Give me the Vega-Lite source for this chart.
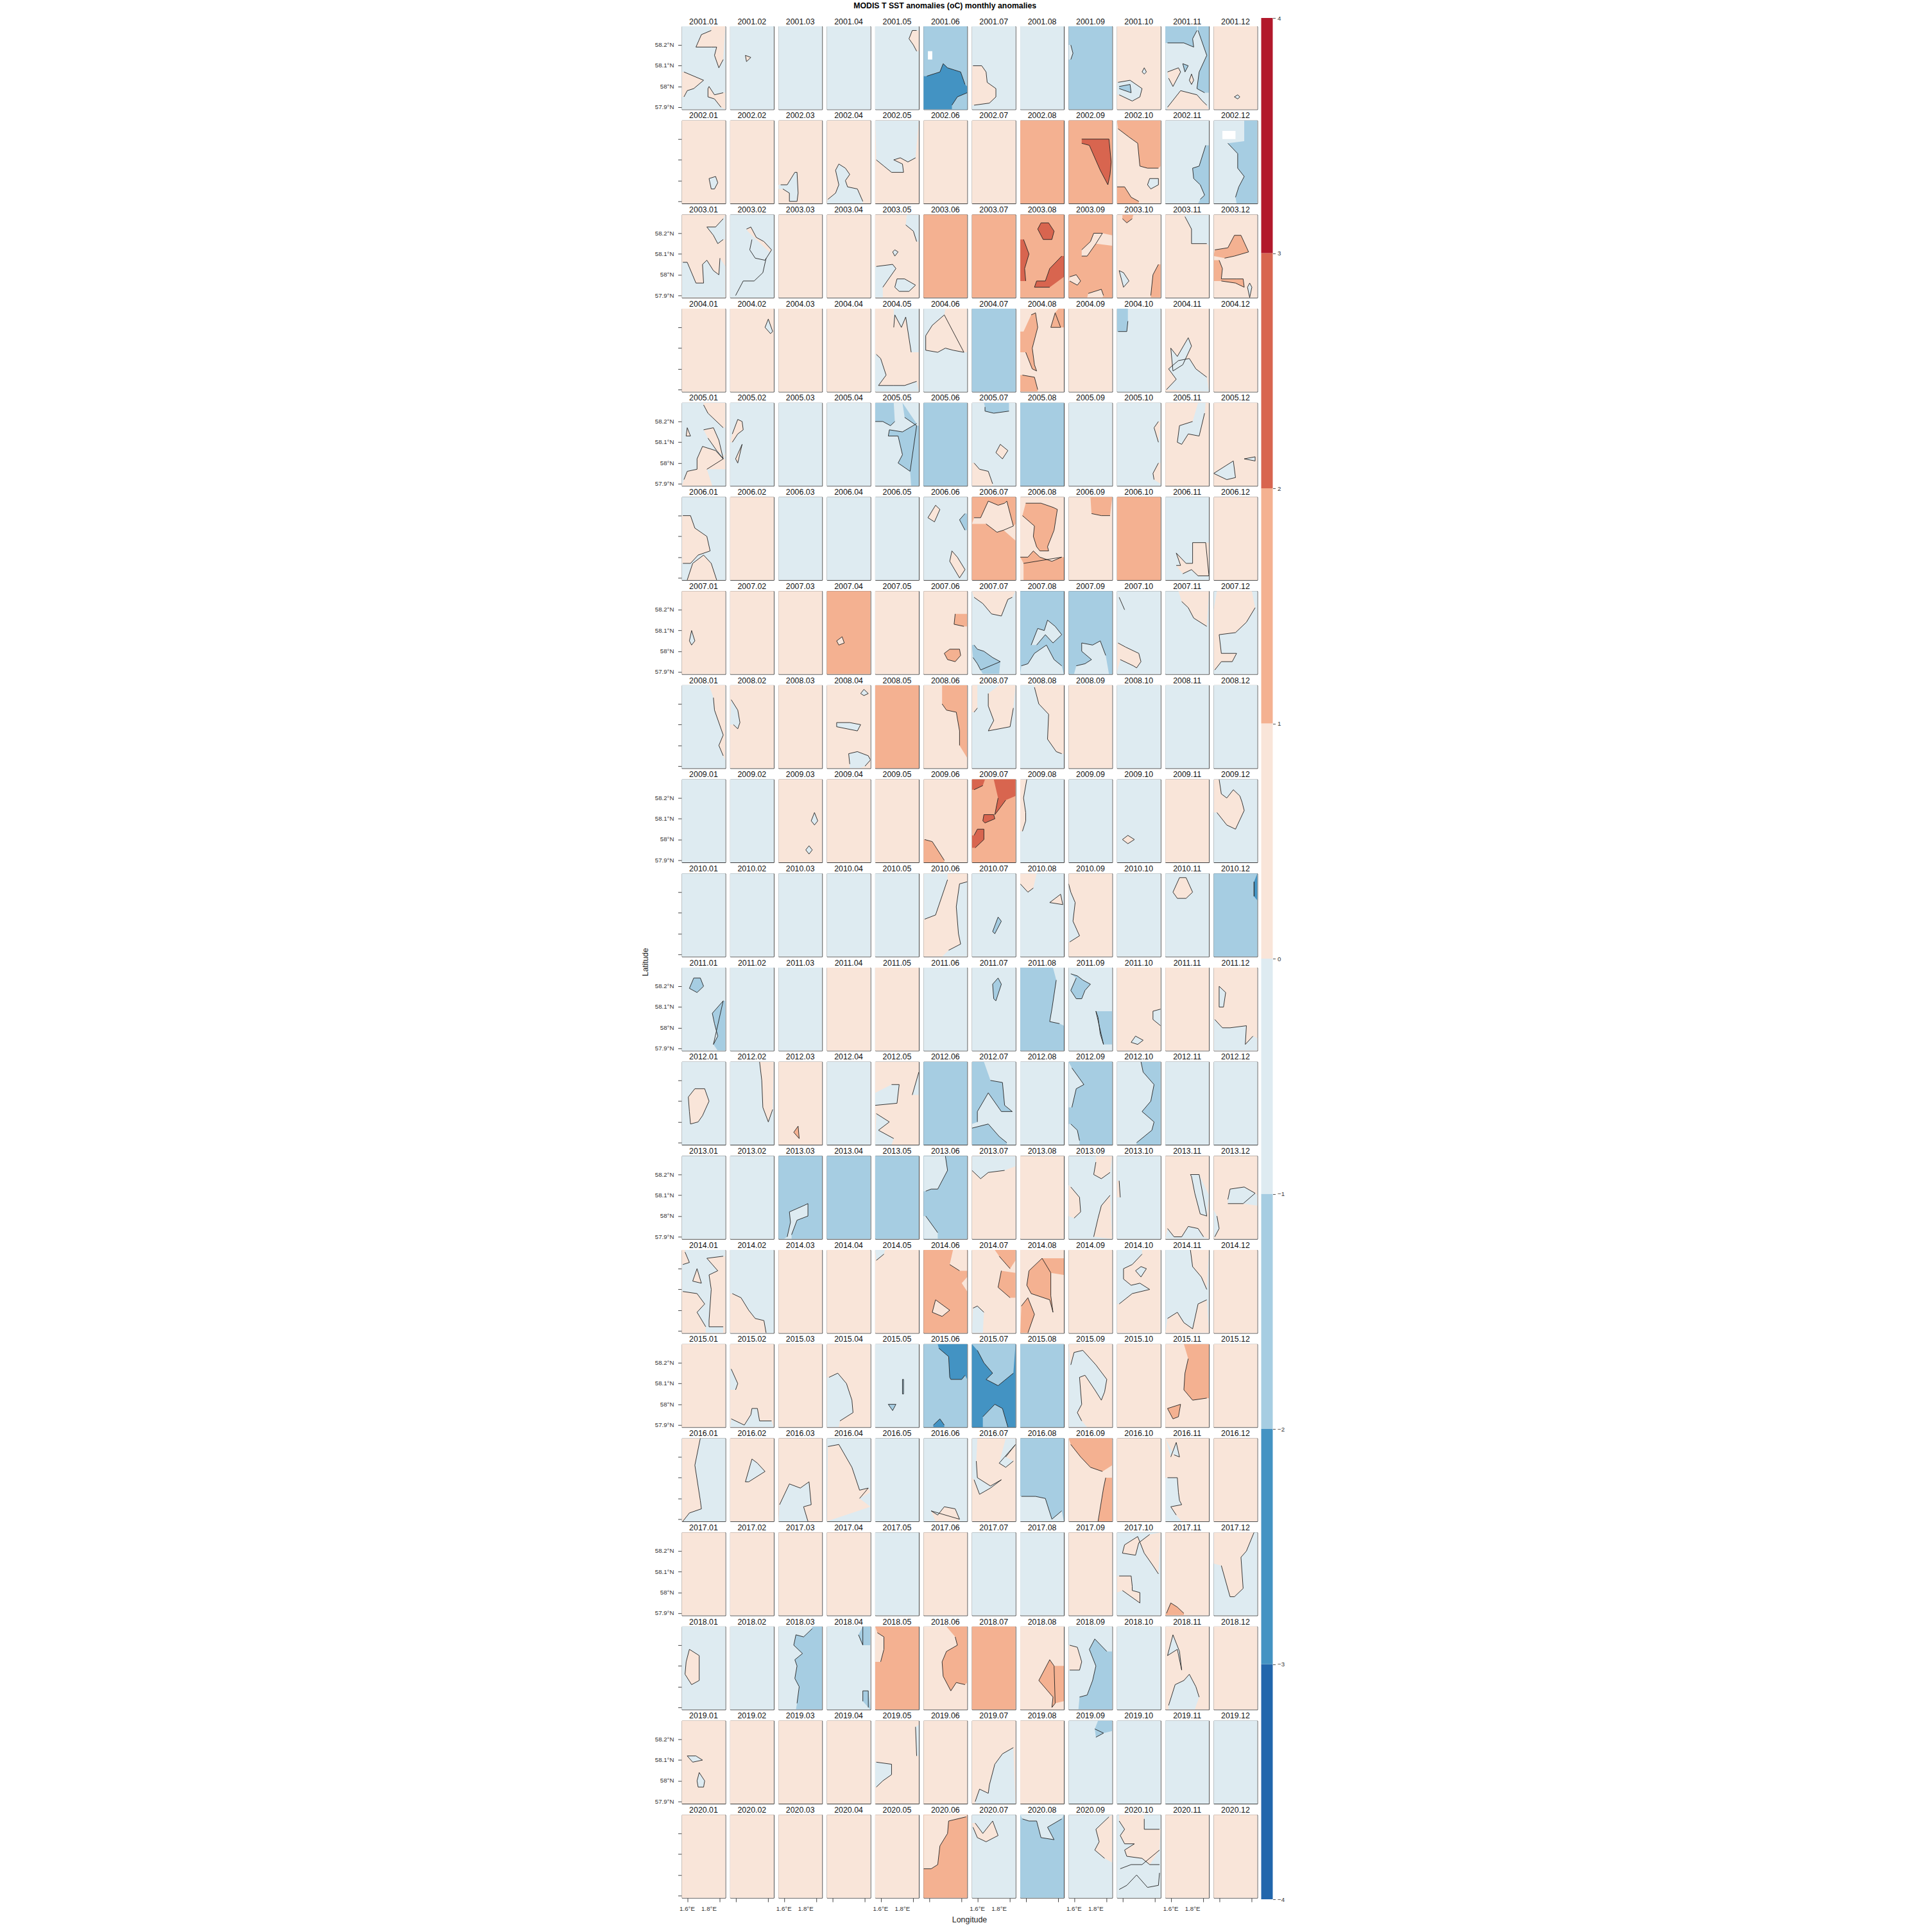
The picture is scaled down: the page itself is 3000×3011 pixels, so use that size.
{"$schema":"https://vega.github.io/schema/vega-lite/v6.json","padding":{"left":999.5,"top":3,"right":0,"bottom":0},"background":"white","title":{"text":"MODIS T SST anomalies (oC) monthly anomalies","fontSize":12.3,"font":"Liberation Sans","fontWeight":"bold","anchor":"middle","offset":7.7,"dx":-28},"config":{"font":"Liberation Sans","view":{"stroke":"#3a3a3a","strokeWidth":1}},"datasets":{"pts":[
{"g":1},{"g":2},{"g":3},{"g":4},{"g":5},{"g":6},{"g":7},{"g":8},{"g":9},{"g":10},{"g":11},{"g":12},{"g":13},{"g":14},{"g":15},{"g":16},{"g":17},{"g":18},{"g":19},{"g":20},{"g":21},{"g":22},{"g":23},{"g":24},{"g":25},{"g":26},{"g":27},{"g":28},{"g":29},{"g":30},{"g":31},{"g":32},{"g":33},{"g":34},{"g":35},{"g":36},{"g":37},{"g":38},{"g":39},{"g":40},{"g":41},{"g":42},{"g":43},{"g":44},{"g":45},{"g":46},{"g":47},{"g":48},{"g":49},{"g":50},{"g":51},{"g":52},{"g":53},{"g":54},{"g":55},{"g":56},{"g":57},{"g":58},{"g":59},{"g":60},{"g":61},{"g":62},{"g":63},{"g":64},{"g":65},{"g":66},{"g":67},{"g":68},{"g":69},{"g":70},{"g":71},{"g":72},{"g":73},{"g":74},{"g":75},{"g":76},{"g":77},{"g":78},{"g":79},{"g":80},{"g":81},{"g":82},{"g":83},{"g":84},{"g":85},{"g":86},{"g":87},{"g":88},{"g":89},{"g":90},{"g":91},{"g":92},{"g":93},{"g":94},{"g":95},{"g":96},{"g":97},{"g":98},{"g":99},{"g":100},{"g":101},{"g":102},{"g":103},{"g":104},{"g":105},{"g":106},{"g":107},{"g":108},{"g":109},{"g":110},{"g":111},{"g":112},{"g":113},{"g":114},{"g":115},{"g":116},{"g":117},{"g":118},{"g":119},{"g":120},{"g":121},{"g":122},{"g":123},{"g":124},{"g":125},{"g":126},{"g":127},{"g":128},{"g":129},{"g":130},{"g":131},{"g":132},{"g":133},{"g":134},{"g":135},{"g":136},{"g":137},{"g":138},{"g":139},{"g":140},{"g":141},{"g":142},{"g":143},{"g":144},{"g":145},{"g":146},{"g":147},{"g":148},{"g":149},{"g":150},{"g":151},{"g":152},{"g":153},{"g":154},{"g":155},{"g":156},{"g":157},{"g":158},{"g":159},{"g":160},{"g":161},{"g":162},{"g":163},{"g":164},{"g":165},{"g":166},{"g":167},{"g":168},{"g":169},{"g":170},{"g":171},{"g":172},{"g":173},{"g":174},{"g":175},{"g":176},{"g":177},{"g":178},{"g":179},{"g":180},{"g":181},{"g":182},{"g":183},{"g":184},{"g":185},{"g":186},{"g":187},{"g":188},{"g":189},{"g":190},{"g":191},{"g":192},{"g":193},{"g":194},{"g":195},{"g":196},{"g":197},{"g":198},{"g":199},{"g":200},{"g":201},{"g":202},{"g":203},{"g":204},{"g":205},{"g":206},{"g":207},{"g":208},{"g":209},{"g":210},{"g":211},{"g":212},{"g":213},{"g":214},{"g":215},{"g":216},{"g":217},{"g":218},{"g":219},{"g":220},{"g":221},{"g":222},{"g":223},{"g":224},{"g":225},{"g":226},{"g":227},{"g":228},{"g":229},{"g":230},{"g":231},{"g":232},{"g":233},{"g":234},{"g":235},{"g":236},{"g":237},{"g":238},{"g":239},{"g":240},
{"g":1,"t":"58.2°N","x":1.55,"y":58.2},{"g":1,"t":"58.1°N","x":1.55,"y":58.1},{"g":1,"t":"58°N","x":1.55,"y":58},{"g":1,"t":"57.9°N","x":1.55,"y":57.9},
{"g":25,"t":"58.2°N","x":1.55,"y":58.2},{"g":25,"t":"58.1°N","x":1.55,"y":58.1},{"g":25,"t":"58°N","x":1.55,"y":58},{"g":25,"t":"57.9°N","x":1.55,"y":57.9},
{"g":49,"t":"58.2°N","x":1.55,"y":58.2},{"g":49,"t":"58.1°N","x":1.55,"y":58.1},{"g":49,"t":"58°N","x":1.55,"y":58},{"g":49,"t":"57.9°N","x":1.55,"y":57.9},
{"g":73,"t":"58.2°N","x":1.55,"y":58.2},{"g":73,"t":"58.1°N","x":1.55,"y":58.1},{"g":73,"t":"58°N","x":1.55,"y":58},{"g":73,"t":"57.9°N","x":1.55,"y":57.9},
{"g":97,"t":"58.2°N","x":1.55,"y":58.2},{"g":97,"t":"58.1°N","x":1.55,"y":58.1},{"g":97,"t":"58°N","x":1.55,"y":58},{"g":97,"t":"57.9°N","x":1.55,"y":57.9},
{"g":121,"t":"58.2°N","x":1.55,"y":58.2},{"g":121,"t":"58.1°N","x":1.55,"y":58.1},{"g":121,"t":"58°N","x":1.55,"y":58},{"g":121,"t":"57.9°N","x":1.55,"y":57.9},
{"g":145,"t":"58.2°N","x":1.55,"y":58.2},{"g":145,"t":"58.1°N","x":1.55,"y":58.1},{"g":145,"t":"58°N","x":1.55,"y":58},{"g":145,"t":"57.9°N","x":1.55,"y":57.9},
{"g":169,"t":"58.2°N","x":1.55,"y":58.2},{"g":169,"t":"58.1°N","x":1.55,"y":58.1},{"g":169,"t":"58°N","x":1.55,"y":58},{"g":169,"t":"57.9°N","x":1.55,"y":57.9},
{"g":193,"t":"58.2°N","x":1.55,"y":58.2},{"g":193,"t":"58.1°N","x":1.55,"y":58.1},{"g":193,"t":"58°N","x":1.55,"y":58},{"g":193,"t":"57.9°N","x":1.55,"y":57.9},
{"g":217,"t":"58.2°N","x":1.55,"y":58.2},{"g":217,"t":"58.1°N","x":1.55,"y":58.1},{"g":217,"t":"58°N","x":1.55,"y":58},{"g":217,"t":"57.9°N","x":1.55,"y":57.9},
{"g":229,"u":"1.6°E","x":1.6,"y":57.89},{"g":229,"u":"1.8°E","x":1.8,"y":57.89},{"g":231,"u":"1.6°E","x":1.6,"y":57.89},{"g":231,"u":"1.8°E","x":1.8,"y":57.89},{"g":233,"u":"1.6°E","x":1.6,"y":57.89},{"g":233,"u":"1.8°E","x":1.8,"y":57.89},{"g":235,"u":"1.6°E","x":1.6,"y":57.89},{"g":235,"u":"1.8°E","x":1.8,"y":57.89},{"g":237,"u":"1.6°E","x":1.6,"y":57.89},{"g":237,"u":"1.8°E","x":1.8,"y":57.89},{"g":239,"u":"1.6°E","x":1.6,"y":57.89},{"g":239,"u":"1.8°E","x":1.8,"y":57.89},
{"g":234,"v":"Longitude","x":1.972,"y":57.89},{"g":109,"w":"Latitude","x":1.22,"y":57.863},
{"g":241,"x":1.82,"y":58.27},{"g":241,"x":1.73,"y":58.25},{"g":241,"x":1.68,"y":58.19},{"g":241,"x":1.82,"y":58.19},{"g":241,"x":1.87,"y":58.19},{"g":241,"x":1.85,"y":58.15},{"g":241,"x":1.89,"y":58.09},{"g":241,"x":1.93,"y":58.13},{"g":241,"x":1.95,"y":58.29,"e":1},{"g":241,"x":1.82,"y":58.29,"e":1},
{"g":242,"x":1.57,"y":58.07},{"g":242,"x":1.75,"y":58.03},{"g":242,"x":1.66,"y":57.99},{"g":242,"x":1.6,"y":57.98},{"g":242,"x":1.57,"y":57.95},{"g":242,"x":1.55,"y":57.95,"e":1},{"g":242,"x":1.55,"y":58.07,"e":1},
{"g":243,"x":1.93,"y":57.97},{"g":243,"x":1.85,"y":57.96},{"g":243,"x":1.8,"y":58},{"g":243,"x":1.79,"y":57.99},{"g":243,"x":1.79,"y":57.95},{"g":243,"x":1.85,"y":57.94},{"g":243,"x":1.91,"y":57.9},{"g":243,"x":1.95,"y":57.89,"e":1},{"g":243,"x":1.95,"y":57.97,"e":1},
{"g":244,"x":1.69,"y":58.15},{"g":244,"x":1.74,"y":58.14},{"g":244,"x":1.7,"y":58.12},{"g":244,"x":1.69,"y":58.15},
{"g":245,"x":1.93,"y":58.27},{"g":245,"x":1.89,"y":58.27},{"g":245,"x":1.86,"y":58.23},{"g":245,"x":1.9,"y":58.2},{"g":245,"x":1.93,"y":58.17},{"g":245,"x":1.95,"y":58.17,"e":1},{"g":245,"x":1.95,"y":58.27,"e":1},
{"g":246,"x":1.58,"y":58.05},{"g":246,"x":1.7,"y":58.07},{"g":246,"x":1.73,"y":58.11},{"g":246,"x":1.77,"y":58.09},{"g":246,"x":1.89,"y":58.07},{"g":246,"x":1.93,"y":58.01},{"g":246,"x":1.95,"y":58,"e":1},{"g":246,"x":1.95,"y":57.89,"e":1},{"g":246,"x":1.55,"y":57.89,"e":1},{"g":246,"x":1.55,"y":58.05,"e":1},
{"g":247,"x":1.81,"y":57.91},{"g":247,"x":1.86,"y":57.95},{"g":247,"x":1.95,"y":57.97},{"g":247,"x":1.95,"y":57.89,"e":1},{"g":247,"x":1.81,"y":57.89,"e":1},
{"g":248,"x":1.59,"y":58.17,"e":1},{"g":248,"x":1.63,"y":58.17,"e":1},{"g":248,"x":1.63,"y":58.13,"e":1},{"g":248,"x":1.59,"y":58.13,"e":1},
{"g":249,"x":1.56,"y":58.1},{"g":249,"x":1.64,"y":58.1},{"g":249,"x":1.68,"y":58.07},{"g":249,"x":1.69,"y":58.02},{"g":249,"x":1.77,"y":57.99},{"g":249,"x":1.77,"y":57.95},{"g":249,"x":1.71,"y":57.92},{"g":249,"x":1.57,"y":57.91},{"g":249,"x":1.55,"y":57.91,"e":1},{"g":249,"x":1.55,"y":58.1,"e":1},
{"g":250,"x":1.57,"y":58.2},{"g":250,"x":1.59,"y":58.16},{"g":250,"x":1.57,"y":58.13},{"g":250,"x":1.55,"y":58.13,"e":1},{"g":250,"x":1.55,"y":58.2,"e":1},
{"g":251,"x":1.56,"y":58.02},{"g":251,"x":1.67,"y":58.03},{"g":251,"x":1.78,"y":57.99},{"g":251,"x":1.76,"y":57.95},{"g":251,"x":1.69,"y":57.93},{"g":251,"x":1.57,"y":57.96},{"g":251,"x":1.55,"y":57.96,"e":1},{"g":251,"x":1.55,"y":58.02,"e":1},
{"g":252,"x":1.57,"y":58},{"g":252,"x":1.67,"y":58.01},{"g":252,"x":1.68,"y":57.97},{"g":252,"x":1.57,"y":57.99},
{"g":253,"x":1.78,"y":58.07},{"g":253,"x":1.8,"y":58.09},{"g":253,"x":1.82,"y":58.07},{"g":253,"x":1.8,"y":58.06},{"g":253,"x":1.78,"y":58.07},
{"g":254,"x":1.57,"y":58.21},{"g":254,"x":1.72,"y":58.21},{"g":254,"x":1.81,"y":58.19},{"g":254,"x":1.8,"y":58.23},{"g":254,"x":1.84,"y":58.27},{"g":254,"x":1.84,"y":58.29,"e":1},{"g":254,"x":1.55,"y":58.29,"e":1},{"g":254,"x":1.55,"y":58.21,"e":1},
{"g":255,"x":1.85,"y":58.27},{"g":255,"x":1.93,"y":58.15},{"g":255,"x":1.86,"y":58.07},{"g":255,"x":1.84,"y":57.99},{"g":255,"x":1.91,"y":57.97},{"g":255,"x":1.95,"y":57.97,"e":1},{"g":255,"x":1.95,"y":58.29,"e":1},{"g":255,"x":1.85,"y":58.29,"e":1},
{"g":256,"x":1.57,"y":57.9},{"g":256,"x":1.69,"y":57.98},{"g":256,"x":1.84,"y":57.96},{"g":256,"x":1.89,"y":57.93},{"g":256,"x":1.93,"y":57.91},{"g":256,"x":1.95,"y":57.89,"e":1},{"g":256,"x":1.57,"y":57.89,"e":1},
{"g":257,"x":1.57,"y":58.07},{"g":257,"x":1.67,"y":58.09},{"g":257,"x":1.69,"y":58.07},{"g":257,"x":1.62,"y":58},{"g":257,"x":1.58,"y":58.04},
{"g":258,"x":1.71,"y":58.11},{"g":258,"x":1.76,"y":58.1},{"g":258,"x":1.73,"y":58.07},{"g":258,"x":1.71,"y":58.11},
{"g":259,"x":1.77,"y":58.03},{"g":259,"x":1.79,"y":58.06},{"g":259,"x":1.81,"y":58.03},{"g":259,"x":1.79,"y":58.01},{"g":259,"x":1.77,"y":58.03},
{"g":260,"x":1.74,"y":57.95},{"g":260,"x":1.77,"y":57.96},{"g":260,"x":1.79,"y":57.95},{"g":260,"x":1.77,"y":57.94},{"g":260,"x":1.74,"y":57.95},
{"g":261,"x":1.8,"y":58.01},{"g":261,"x":1.86,"y":58.02},{"g":261,"x":1.88,"y":57.99},{"g":261,"x":1.85,"y":57.96},{"g":261,"x":1.82,"y":57.96},{"g":261,"x":1.8,"y":58.01},
{"g":262,"x":1.57,"y":57.98},{"g":262,"x":1.63,"y":57.98},{"g":262,"x":1.7,"y":58.04},{"g":262,"x":1.72,"y":58.04},{"g":262,"x":1.73,"y":57.94},{"g":262,"x":1.72,"y":57.9},{"g":262,"x":1.65,"y":57.9},{"g":262,"x":1.65,"y":57.94},{"g":262,"x":1.59,"y":57.96},{"g":262,"x":1.55,"y":57.96,"e":1},{"g":262,"x":1.55,"y":57.98,"e":1},
{"g":263,"x":1.56,"y":57.91},{"g":263,"x":1.63,"y":57.94},{"g":263,"x":1.66,"y":57.98},{"g":263,"x":1.63,"y":58.05},{"g":263,"x":1.66,"y":58.08},{"g":263,"x":1.72,"y":58.06},{"g":263,"x":1.76,"y":58.03},{"g":263,"x":1.72,"y":58},{"g":263,"x":1.74,"y":57.97},{"g":263,"x":1.83,"y":57.96},{"g":263,"x":1.88,"y":57.9},{"g":263,"x":1.88,"y":57.89,"e":1},{"g":263,"x":1.55,"y":57.89,"e":1},
{"g":264,"x":1.56,"y":58.1},{"g":264,"x":1.63,"y":58.07},{"g":264,"x":1.7,"y":58.04},{"g":264,"x":1.81,"y":58.04},{"g":264,"x":1.8,"y":58.08},{"g":264,"x":1.72,"y":58.1},{"g":264,"x":1.78,"y":58.11},{"g":264,"x":1.85,"y":58.09},{"g":264,"x":1.92,"y":58.11},{"g":264,"x":1.95,"y":58.29,"e":1},{"g":264,"x":1.55,"y":58.29,"e":1},
{"g":265,"x":1.67,"y":58.2},{"g":265,"x":1.92,"y":58.2},{"g":265,"x":1.94,"y":58.09},{"g":265,"x":1.93,"y":58.03},{"g":265,"x":1.91,"y":57.98},{"g":265,"x":1.84,"y":58.05},{"g":265,"x":1.79,"y":58.11},{"g":265,"x":1.74,"y":58.17},{"g":265,"x":1.67,"y":58.18},
{"g":266,"x":1.56,"y":58.25},{"g":266,"x":1.66,"y":58.21},{"g":266,"x":1.74,"y":58.18},{"g":266,"x":1.76,"y":58.07},{"g":266,"x":1.83,"y":58.06},{"g":266,"x":1.93,"y":58.06},{"g":266,"x":1.95,"y":58.07,"e":1},{"g":266,"x":1.95,"y":58.29,"e":1},{"g":266,"x":1.55,"y":58.29,"e":1},
{"g":267,"x":1.55,"y":57.97},{"g":267,"x":1.62,"y":57.97},{"g":267,"x":1.68,"y":57.92},{"g":267,"x":1.75,"y":57.9},{"g":267,"x":1.75,"y":57.89,"e":1},{"g":267,"x":1.55,"y":57.89,"e":1},
{"g":268,"x":1.83,"y":57.98},{"g":268,"x":1.85,"y":58.01},{"g":268,"x":1.93,"y":58.01},{"g":268,"x":1.93,"y":57.98},{"g":268,"x":1.86,"y":57.96},{"g":268,"x":1.83,"y":57.98},
{"g":269,"x":1.92,"y":58.17},{"g":269,"x":1.86,"y":58.07},{"g":269,"x":1.8,"y":58.06},{"g":269,"x":1.81,"y":58.01},{"g":269,"x":1.87,"y":57.98},{"g":269,"x":1.91,"y":57.93},{"g":269,"x":1.87,"y":57.91},{"g":269,"x":1.85,"y":57.89,"e":1},{"g":269,"x":1.95,"y":57.89,"e":1},{"g":269,"x":1.95,"y":58.17,"e":1},
{"g":270,"x":1.68,"y":58.18},{"g":270,"x":1.77,"y":58.13},{"g":270,"x":1.77,"y":58.06},{"g":270,"x":1.83,"y":58.02},{"g":270,"x":1.78,"y":57.97},{"g":270,"x":1.75,"y":57.92},{"g":270,"x":1.76,"y":57.89,"e":1},{"g":270,"x":1.95,"y":57.89,"e":1},{"g":270,"x":1.95,"y":58.29,"e":1},{"g":270,"x":1.83,"y":58.29,"e":1},{"g":270,"x":1.83,"y":58.19,"e":1},
{"g":271,"x":1.63,"y":58.24,"e":1},{"g":271,"x":1.75,"y":58.24,"e":1},{"g":271,"x":1.75,"y":58.2,"e":1},{"g":271,"x":1.63,"y":58.2,"e":1},
{"g":272,"x":1.56,"y":58.06},{"g":272,"x":1.6,"y":58.06},{"g":272,"x":1.68,"y":57.96},{"g":272,"x":1.75,"y":57.96},{"g":272,"x":1.74,"y":58.05},{"g":272,"x":1.78,"y":58.07},{"g":272,"x":1.84,"y":58.02},{"g":272,"x":1.89,"y":58},{"g":272,"x":1.9,"y":58.08},{"g":272,"x":1.95,"y":58.04,"e":1},{"g":272,"x":1.95,"y":57.89,"e":1},{"g":272,"x":1.55,"y":57.89,"e":1},{"g":272,"x":1.55,"y":58.06,"e":1},
{"g":273,"x":1.93,"y":58.27},{"g":273,"x":1.86,"y":58.23},{"g":273,"x":1.78,"y":58.23},{"g":273,"x":1.84,"y":58.19},{"g":273,"x":1.88,"y":58.15},{"g":273,"x":1.93,"y":58.17},{"g":273,"x":1.95,"y":58.17,"e":1},{"g":273,"x":1.95,"y":58.29,"e":1},
{"g":274,"x":1.7,"y":58.22},{"g":274,"x":1.74,"y":58.23},{"g":274,"x":1.79,"y":58.18},{"g":274,"x":1.86,"y":58.16},{"g":274,"x":1.93,"y":58.12},{"g":274,"x":1.87,"y":58.07},{"g":274,"x":1.78,"y":58.08},{"g":274,"x":1.73,"y":58.12},{"g":274,"x":1.75,"y":58.17},
{"g":275,"x":1.6,"y":57.9},{"g":275,"x":1.67,"y":57.97},{"g":275,"x":1.77,"y":57.97},{"g":275,"x":1.85,"y":58.01},{"g":275,"x":1.88,"y":58.08},{"g":275,"x":1.95,"y":58.09,"e":1},{"g":275,"x":1.55,"y":58.29,"e":1},{"g":275,"x":1.55,"y":58.29,"e":1},
{"g":276,"x":1.83,"y":58.24},{"g":276,"x":1.9,"y":58.21},{"g":276,"x":1.93,"y":58.16},{"g":276,"x":1.95,"y":58.16,"e":1},{"g":276,"x":1.95,"y":58.29,"e":1},{"g":276,"x":1.84,"y":58.29,"e":1},
{"g":277,"x":1.56,"y":58.04},{"g":277,"x":1.71,"y":58.05},{"g":277,"x":1.74,"y":58.03},{"g":277,"x":1.62,"y":57.94},{"g":277,"x":1.62,"y":57.89,"e":1},{"g":277,"x":1.55,"y":57.89,"e":1},{"g":277,"x":1.55,"y":58.04,"e":1},
{"g":278,"x":1.73,"y":57.94},{"g":278,"x":1.75,"y":57.98},{"g":278,"x":1.82,"y":57.98},{"g":278,"x":1.92,"y":57.95},{"g":278,"x":1.86,"y":57.92},{"g":278,"x":1.77,"y":57.92},{"g":278,"x":1.73,"y":57.94},
{"g":279,"x":1.71,"y":58.11},{"g":279,"x":1.73,"y":58.12},{"g":279,"x":1.76,"y":58.11},{"g":279,"x":1.73,"y":58.09},{"g":279,"x":1.71,"y":58.11},
{"g":280,"x":1.71,"y":58.22},{"g":280,"x":1.74,"y":58.25},{"g":280,"x":1.81,"y":58.25},{"g":280,"x":1.86,"y":58.21},{"g":280,"x":1.84,"y":58.17},{"g":280,"x":1.76,"y":58.17},{"g":280,"x":1.71,"y":58.22},
{"g":281,"x":1.58,"y":58.17},{"g":281,"x":1.63,"y":58.1},{"g":281,"x":1.59,"y":58.03},{"g":281,"x":1.6,"y":57.97},{"g":281,"x":1.55,"y":57.97,"e":1},{"g":281,"x":1.55,"y":58.17,"e":1},
{"g":282,"x":1.93,"y":58.09},{"g":282,"x":1.82,"y":58.03},{"g":282,"x":1.78,"y":57.97},{"g":282,"x":1.7,"y":57.97},{"g":282,"x":1.68,"y":57.94},{"g":282,"x":1.82,"y":57.94},{"g":282,"x":1.95,"y":57.99,"e":1},{"g":282,"x":1.95,"y":58.09,"e":1},
{"g":283,"x":1.67,"y":58.12},{"g":283,"x":1.75,"y":58.16},{"g":283,"x":1.78,"y":58.2},{"g":283,"x":1.86,"y":58.2},{"g":283,"x":1.95,"y":58.19,"e":1},{"g":283,"x":1.95,"y":58.14,"e":1},{"g":283,"x":1.8,"y":58.15},{"g":283,"x":1.72,"y":58.09},{"g":283,"x":1.67,"y":58.09},
{"g":284,"x":1.73,"y":57.91},{"g":284,"x":1.85,"y":57.93},{"g":284,"x":1.87,"y":57.9},{"g":284,"x":1.86,"y":57.89,"e":1},{"g":284,"x":1.72,"y":57.89,"e":1},
{"g":285,"x":1.56,"y":57.99},{"g":285,"x":1.62,"y":58},{"g":285,"x":1.66,"y":57.97},{"g":285,"x":1.63,"y":57.95},{"g":285,"x":1.56,"y":57.97},{"g":285,"x":1.55,"y":57.97,"e":1},
{"g":286,"x":1.57,"y":58.02},{"g":286,"x":1.61,"y":58.01},{"g":286,"x":1.66,"y":57.97},{"g":286,"x":1.61,"y":57.94},{"g":286,"x":1.57,"y":58.02},
{"g":287,"x":1.86,"y":57.9},{"g":287,"x":1.88,"y":58},{"g":287,"x":1.93,"y":58.05},{"g":287,"x":1.95,"y":58.05,"e":1},{"g":287,"x":1.95,"y":57.89,"e":1},{"g":287,"x":1.86,"y":57.89,"e":1},
{"g":288,"x":1.6,"y":58.27},{"g":288,"x":1.64,"y":58.25},{"g":288,"x":1.69,"y":58.27},{"g":288,"x":1.7,"y":58.29,"e":1},{"g":288,"x":1.6,"y":58.29,"e":1},
{"g":289,"x":1.73,"y":58.28},{"g":289,"x":1.79,"y":58.22},{"g":289,"x":1.79,"y":58.15},{"g":289,"x":1.93,"y":58.15},{"g":289,"x":1.95,"y":58.14,"e":1},{"g":289,"x":1.95,"y":58.29,"e":1},{"g":289,"x":1.73,"y":58.29,"e":1},
{"g":290,"x":1.56,"y":58.12},{"g":290,"x":1.68,"y":58.13},{"g":290,"x":1.74,"y":58.19},{"g":290,"x":1.8,"y":58.19},{"g":290,"x":1.87,"y":58.11},{"g":290,"x":1.74,"y":58.09},{"g":290,"x":1.65,"y":58.08},{"g":290,"x":1.55,"y":58.09,"e":1},
{"g":291,"x":1.6,"y":58.07},{"g":291,"x":1.63,"y":58.03},{"g":291,"x":1.62,"y":57.98},{"g":291,"x":1.76,"y":57.98},{"g":291,"x":1.82,"y":57.98},{"g":291,"x":1.83,"y":57.94},{"g":291,"x":1.75,"y":57.96},{"g":291,"x":1.62,"y":57.97},{"g":291,"x":1.55,"y":57.97,"e":1},{"g":291,"x":1.55,"y":58.07,"e":1},
{"g":292,"x":1.86,"y":57.94},{"g":292,"x":1.88,"y":57.96},{"g":292,"x":1.9,"y":57.94},{"g":292,"x":1.88,"y":57.89},{"g":292,"x":1.86,"y":57.94},
{"g":293,"x":1.87,"y":58.2},{"g":293,"x":1.9,"y":58.24},{"g":293,"x":1.94,"y":58.18},{"g":293,"x":1.92,"y":58.17},{"g":293,"x":1.87,"y":58.2},
{"g":294,"x":1.72,"y":58.2},{"g":294,"x":1.73,"y":58.26},{"g":294,"x":1.79,"y":58.2},{"g":294,"x":1.83,"y":58.25},{"g":294,"x":1.88,"y":58.08},{"g":294,"x":1.95,"y":58.08,"e":1},{"g":294,"x":1.95,"y":58.29,"e":1},{"g":294,"x":1.72,"y":58.29,"e":1},
{"g":295,"x":1.56,"y":58.07},{"g":295,"x":1.6,"y":58.05},{"g":295,"x":1.65,"y":57.97},{"g":295,"x":1.58,"y":57.92},{"g":295,"x":1.72,"y":57.92},{"g":295,"x":1.82,"y":57.92},{"g":295,"x":1.93,"y":57.94},{"g":295,"x":1.95,"y":57.89,"e":1},{"g":295,"x":1.55,"y":57.89,"e":1},{"g":295,"x":1.55,"y":58.07,"e":1},
{"g":296,"x":1.57,"y":58.09},{"g":296,"x":1.57,"y":58.16},{"g":296,"x":1.63,"y":58.21},{"g":296,"x":1.74,"y":58.26},{"g":296,"x":1.75,"y":58.29,"e":1},{"g":296,"x":1.95,"y":58.29,"e":1},{"g":296,"x":1.95,"y":58.08,"e":1},{"g":296,"x":1.92,"y":58.08},{"g":296,"x":1.82,"y":58.09},{"g":296,"x":1.75,"y":58.1},{"g":296,"x":1.68,"y":58.08},{"g":296,"x":1.57,"y":58.09},
{"g":297,"x":1.58,"y":58.18,"e":1},{"g":297,"x":1.65,"y":58.26},{"g":297,"x":1.69,"y":58.27},{"g":297,"x":1.71,"y":58.2},{"g":297,"x":1.66,"y":58.1},{"g":297,"x":1.68,"y":58.02},{"g":297,"x":1.7,"y":57.99},{"g":297,"x":1.66,"y":58},{"g":297,"x":1.6,"y":58.08},{"g":297,"x":1.55,"y":58.08,"e":1},{"g":297,"x":1.55,"y":58.18,"e":1},
{"g":298,"x":1.83,"y":58.2},{"g":298,"x":1.87,"y":58.27},{"g":298,"x":1.9,"y":58.29,"e":1},{"g":298,"x":1.95,"y":58.29,"e":1},{"g":298,"x":1.95,"y":58.2,"e":1},{"g":298,"x":1.92,"y":58.2},{"g":298,"x":1.83,"y":58.2},
{"g":299,"x":1.57,"y":57.97},{"g":299,"x":1.68,"y":57.96},{"g":299,"x":1.71,"y":57.9},{"g":299,"x":1.71,"y":57.89,"e":1},{"g":299,"x":1.55,"y":57.89,"e":1},{"g":299,"x":1.55,"y":57.97,"e":1},
{"g":300,"x":1.65,"y":58.29,"e":1},{"g":300,"x":1.65,"y":58.23},{"g":300,"x":1.64,"y":58.18},{"g":300,"x":1.56,"y":58.18},{"g":300,"x":1.55,"y":58.18,"e":1},{"g":300,"x":1.55,"y":58.29,"e":1},
{"g":301,"x":1.6,"y":58.1},{"g":301,"x":1.66,"y":58.06},{"g":301,"x":1.76,"y":58.15},{"g":301,"x":1.79,"y":58.11},{"g":301,"x":1.71,"y":58.02},{"g":301,"x":1.62,"y":57.99},{"g":301,"x":1.6,"y":58.1},
{"g":302,"x":1.56,"y":57.9},{"g":302,"x":1.65,"y":57.95},{"g":302,"x":1.58,"y":58},{"g":302,"x":1.67,"y":58.04},{"g":302,"x":1.77,"y":58.05},{"g":302,"x":1.83,"y":58},{"g":302,"x":1.93,"y":57.96},{"g":302,"x":1.95,"y":57.89,"e":1},
{"g":303,"x":1.75,"y":58.28},{"g":303,"x":1.79,"y":58.24},{"g":303,"x":1.83,"y":58.22},{"g":303,"x":1.93,"y":58.17},{"g":303,"x":1.95,"y":58.17,"e":1},{"g":303,"x":1.95,"y":58.29,"e":1},{"g":303,"x":1.75,"y":58.29,"e":1},
{"g":304,"x":1.75,"y":58.16},{"g":304,"x":1.84,"y":58.17},{"g":304,"x":1.89,"y":58.11},{"g":304,"x":1.93,"y":58.02},{"g":304,"x":1.95,"y":58.05,"e":1},{"g":304,"x":1.95,"y":58.03,"e":1},{"g":304,"x":1.87,"y":58.06},{"g":304,"x":1.79,"y":58.12},
{"g":305,"x":1.57,"y":57.92},{"g":305,"x":1.6,"y":57.96},{"g":305,"x":1.69,"y":57.97},{"g":305,"x":1.69,"y":58.02},{"g":305,"x":1.74,"y":58.08},{"g":305,"x":1.86,"y":58.06},{"g":305,"x":1.93,"y":58.02},{"g":305,"x":1.95,"y":58.02,"e":1},{"g":305,"x":1.95,"y":57.97,"e":1},{"g":305,"x":1.78,"y":57.97},{"g":305,"x":1.83,"y":57.89,"e":1},{"g":305,"x":1.55,"y":57.89,"e":1},
{"g":306,"x":1.6,"y":58.17},{"g":306,"x":1.63,"y":58.13},{"g":306,"x":1.59,"y":58.13},{"g":306,"x":1.6,"y":58.17},
{"g":307,"x":1.57,"y":58.14},{"g":307,"x":1.62,"y":58.21},{"g":307,"x":1.66,"y":58.2},{"g":307,"x":1.67,"y":58.16},{"g":307,"x":1.62,"y":58.14},{"g":307,"x":1.57,"y":58.1},{"g":307,"x":1.55,"y":58.1,"e":1},
{"g":308,"x":1.6,"y":58.02},{"g":308,"x":1.66,"y":58.09},{"g":308,"x":1.62,"y":58},{"g":308,"x":1.6,"y":58.02},
{"g":309,"x":1.55,"y":58.2},{"g":309,"x":1.62,"y":58.2},{"g":309,"x":1.69,"y":58.18},{"g":309,"x":1.73,"y":58.2},{"g":309,"x":1.72,"y":58.29,"e":1},{"g":309,"x":1.55,"y":58.29,"e":1},
{"g":310,"x":1.8,"y":58.29,"e":1},{"g":310,"x":1.82,"y":58.22},{"g":310,"x":1.93,"y":58.18},{"g":310,"x":1.95,"y":58.18,"e":1},{"g":310,"x":1.95,"y":57.89,"e":1},{"g":310,"x":1.88,"y":57.89,"e":1},{"g":310,"x":1.87,"y":57.96},{"g":310,"x":1.76,"y":58},{"g":310,"x":1.8,"y":58.04},{"g":310,"x":1.76,"y":58.13},{"g":310,"x":1.67,"y":58.13},{"g":310,"x":1.68,"y":58.16},{"g":310,"x":1.8,"y":58.15},{"g":310,"x":1.93,"y":58.19},
{"g":311,"x":1.67,"y":58.27},{"g":311,"x":1.67,"y":58.25},{"g":311,"x":1.75,"y":58.24},{"g":311,"x":1.89,"y":58.25},{"g":311,"x":1.89,"y":58.29,"e":1},{"g":311,"x":1.66,"y":58.29,"e":1},
{"g":312,"x":1.77,"y":58.05},{"g":312,"x":1.81,"y":58.09},{"g":312,"x":1.88,"y":58.06},{"g":312,"x":1.83,"y":58.02},{"g":312,"x":1.77,"y":58.05},
{"g":313,"x":1.57,"y":58},{"g":313,"x":1.62,"y":57.97},{"g":313,"x":1.7,"y":57.96},{"g":313,"x":1.74,"y":57.9},{"g":313,"x":1.74,"y":57.89,"e":1},{"g":313,"x":1.55,"y":57.89,"e":1},{"g":313,"x":1.55,"y":58,"e":1},
{"g":314,"x":1.93,"y":58.2},{"g":314,"x":1.89,"y":58.17},{"g":314,"x":1.93,"y":58.1},{"g":314,"x":1.95,"y":58.2,"e":1},
{"g":315,"x":1.93,"y":58},{"g":315,"x":1.88,"y":57.95},{"g":315,"x":1.89,"y":57.92},{"g":315,"x":1.95,"y":57.9,"e":1},{"g":315,"x":1.95,"y":58,"e":1},
{"g":316,"x":1.85,"y":58.29,"e":1},{"g":316,"x":1.8,"y":58.2},{"g":316,"x":1.68,"y":58.18},{"g":316,"x":1.66,"y":58.1},{"g":316,"x":1.7,"y":58.09},{"g":316,"x":1.76,"y":58.14},{"g":316,"x":1.86,"y":58.13},{"g":316,"x":1.91,"y":58.24},{"g":316,"x":1.92,"y":58.29,"e":1},
{"g":317,"x":1.55,"y":57.95},{"g":317,"x":1.73,"y":58.01},{"g":317,"x":1.75,"y":57.93},{"g":317,"x":1.67,"y":57.92},{"g":317,"x":1.55,"y":57.95},
{"g":318,"x":1.83,"y":58.02},{"g":318,"x":1.93,"y":58.03},{"g":318,"x":1.93,"y":58.01},{"g":318,"x":1.83,"y":58.02},
{"g":319,"x":1.56,"y":58.2},{"g":319,"x":1.63,"y":58.2},{"g":319,"x":1.67,"y":58.14},{"g":319,"x":1.78,"y":58.1},{"g":319,"x":1.81,"y":58.03},{"g":319,"x":1.7,"y":58.01},{"g":319,"x":1.63,"y":57.97},{"g":319,"x":1.56,"y":57.97},{"g":319,"x":1.55,"y":57.97,"e":1},{"g":319,"x":1.55,"y":58.2,"e":1},
{"g":320,"x":1.6,"y":57.89},{"g":320,"x":1.65,"y":57.97},{"g":320,"x":1.75,"y":58.01},{"g":320,"x":1.82,"y":57.97},{"g":320,"x":1.87,"y":57.89},
{"g":321,"x":1.59,"y":58.19},{"g":321,"x":1.66,"y":58.25},{"g":321,"x":1.7,"y":58.23},{"g":321,"x":1.65,"y":58.17},{"g":321,"x":1.59,"y":58.19},
{"g":322,"x":1.81,"y":58.03},{"g":322,"x":1.79,"y":57.98},{"g":322,"x":1.88,"y":57.9},{"g":322,"x":1.93,"y":57.94},{"g":322,"x":1.86,"y":58},{"g":322,"x":1.81,"y":58.03},
{"g":323,"x":1.93,"y":58.21},{"g":323,"x":1.88,"y":58.18},{"g":323,"x":1.93,"y":58.13},{"g":323,"x":1.95,"y":58.13,"e":1},{"g":323,"x":1.95,"y":58.21,"e":1},
{"g":324,"x":1.57,"y":58.19},{"g":324,"x":1.63,"y":58.19},{"g":324,"x":1.7,"y":58.27},{"g":324,"x":1.79,"y":58.25},{"g":324,"x":1.85,"y":58.26},{"g":324,"x":1.87,"y":58.27},{"g":324,"x":1.93,"y":58.15},{"g":324,"x":1.95,"y":58.16,"e":1},{"g":324,"x":1.95,"y":58.08,"e":1},{"g":324,"x":1.84,"y":58.13},{"g":324,"x":1.78,"y":58.12},{"g":324,"x":1.68,"y":58.16},{"g":324,"x":1.55,"y":58.16,"e":1},
{"g":325,"x":1.6,"y":58.26},{"g":325,"x":1.74,"y":58.26},{"g":325,"x":1.85,"y":58.24},{"g":325,"x":1.89,"y":58.23},{"g":325,"x":1.86,"y":58.13},{"g":325,"x":1.8,"y":58.05},{"g":325,"x":1.81,"y":58.03},{"g":325,"x":1.73,"y":58.03},{"g":325,"x":1.7,"y":58.05},{"g":325,"x":1.67,"y":58.1},{"g":325,"x":1.68,"y":58.15},{"g":325,"x":1.57,"y":58.2},
{"g":326,"x":1.55,"y":58},{"g":326,"x":1.62,"y":58},{"g":326,"x":1.67,"y":58.03},{"g":326,"x":1.73,"y":58},{"g":326,"x":1.84,"y":57.98},{"g":326,"x":1.93,"y":58},{"g":326,"x":1.95,"y":58,"e":1},{"g":326,"x":1.95,"y":57.89,"e":1},{"g":326,"x":1.58,"y":57.89,"e":1},{"g":326,"x":1.58,"y":57.97},
{"g":327,"x":1.75,"y":58.29,"e":1},{"g":327,"x":1.76,"y":58.21},{"g":327,"x":1.85,"y":58.2},{"g":327,"x":1.93,"y":58.2},{"g":327,"x":1.95,"y":58.29,"e":1},
{"g":328,"x":1.65,"y":57.96},{"g":328,"x":1.69,"y":57.96},{"g":328,"x":1.65,"y":58.02},{"g":328,"x":1.74,"y":57.97},{"g":328,"x":1.8,"y":57.97},{"g":328,"x":1.8,"y":58.07},{"g":328,"x":1.92,"y":58.07},{"g":328,"x":1.95,"y":58.07,"e":1},{"g":328,"x":1.95,"y":57.91},{"g":328,"x":1.85,"y":57.91},{"g":328,"x":1.79,"y":57.94},{"g":328,"x":1.71,"y":57.92},
{"g":329,"x":1.62,"y":58.05},{"g":329,"x":1.64,"y":58.1},{"g":329,"x":1.67,"y":58.05},{"g":329,"x":1.64,"y":58.03},{"g":329,"x":1.62,"y":58.05},
{"g":330,"x":1.64,"y":58.05},{"g":330,"x":1.69,"y":58.07},{"g":330,"x":1.71,"y":58.04},{"g":330,"x":1.66,"y":58.03},{"g":330,"x":1.64,"y":58.05},
{"g":331,"x":1.95,"y":58.18,"e":1},{"g":331,"x":1.84,"y":58.18},{"g":331,"x":1.83,"y":58.13},{"g":331,"x":1.92,"y":58.12},{"g":331,"x":1.95,"y":58.12,"e":1},
{"g":332,"x":1.74,"y":57.99},{"g":332,"x":1.79,"y":58.01},{"g":332,"x":1.88,"y":58.01},{"g":332,"x":1.89,"y":57.98},{"g":332,"x":1.84,"y":57.95},{"g":332,"x":1.77,"y":57.96},{"g":332,"x":1.74,"y":57.99},
{"g":333,"x":1.57,"y":58.26},{"g":333,"x":1.65,"y":58.23},{"g":333,"x":1.73,"y":58.18},{"g":333,"x":1.82,"y":58.17},{"g":333,"x":1.88,"y":58.25},{"g":333,"x":1.92,"y":58.26},{"g":333,"x":1.95,"y":58.29,"e":1},{"g":333,"x":1.55,"y":58.29,"e":1},
{"g":334,"x":1.56,"y":57.97},{"g":334,"x":1.6,"y":57.94},{"g":334,"x":1.63,"y":57.91},{"g":334,"x":1.65,"y":57.89,"e":1},{"g":334,"x":1.8,"y":57.89,"e":1},{"g":334,"x":1.81,"y":57.95},{"g":334,"x":1.74,"y":57.97},{"g":334,"x":1.66,"y":58},{"g":334,"x":1.6,"y":58.01},{"g":334,"x":1.57,"y":58.03},{"g":334,"x":1.55,"y":58.03,"e":1},
{"g":335,"x":1.56,"y":57.93},{"g":335,"x":1.62,"y":57.94},{"g":335,"x":1.68,"y":57.99},{"g":335,"x":1.79,"y":58.03},{"g":335,"x":1.86,"y":57.96},{"g":335,"x":1.93,"y":57.93},{"g":335,"x":1.95,"y":57.89,"e":1},{"g":335,"x":1.55,"y":57.89,"e":1},
{"g":336,"x":1.65,"y":58.03},{"g":336,"x":1.71,"y":58.11},{"g":336,"x":1.77,"y":58.1},{"g":336,"x":1.8,"y":58.15},{"g":336,"x":1.87,"y":58.12},{"g":336,"x":1.93,"y":58.08},{"g":336,"x":1.85,"y":58.04},{"g":336,"x":1.78,"y":58.08},{"g":336,"x":1.7,"y":58.03},
{"g":337,"x":1.6,"y":57.89,"e":1},{"g":337,"x":1.62,"y":57.93},{"g":337,"x":1.7,"y":57.94},{"g":337,"x":1.76,"y":57.96},{"g":337,"x":1.67,"y":58},{"g":337,"x":1.67,"y":58.04},{"g":337,"x":1.77,"y":58.03},{"g":337,"x":1.84,"y":58.05},{"g":337,"x":1.89,"y":57.98},{"g":337,"x":1.92,"y":57.89,"e":1},
{"g":338,"x":1.56,"y":58.04},{"g":338,"x":1.63,"y":58.02},{"g":338,"x":1.75,"y":57.99},{"g":338,"x":1.77,"y":57.95},{"g":338,"x":1.73,"y":57.92},{"g":338,"x":1.7,"y":57.93},{"g":338,"x":1.58,"y":57.96},{"g":338,"x":1.55,"y":57.9,"e":1},{"g":338,"x":1.55,"y":58.04,"e":1},
{"g":339,"x":1.57,"y":58.26},{"g":339,"x":1.62,"y":58.2},{"g":339,"x":1.55,"y":58.29,"e":1},
{"g":340,"x":1.67,"y":58.29,"e":1},{"g":340,"x":1.7,"y":58.24},{"g":340,"x":1.76,"y":58.21},{"g":340,"x":1.81,"y":58.16},{"g":340,"x":1.93,"y":58.12},{"g":340,"x":1.95,"y":58.29,"e":1},
{"g":341,"x":1.56,"y":57.91},{"g":341,"x":1.62,"y":57.95},{"g":341,"x":1.72,"y":57.95},{"g":341,"x":1.76,"y":57.99},{"g":341,"x":1.62,"y":57.99},{"g":341,"x":1.6,"y":58.08},{"g":341,"x":1.75,"y":58.09},{"g":341,"x":1.85,"y":58.14},{"g":341,"x":1.93,"y":58.21},{"g":341,"x":1.9,"y":58.29,"e":1},{"g":341,"x":1.58,"y":58.29,"e":1},{"g":341,"x":1.55,"y":58.2,"e":1},{"g":341,"x":1.55,"y":57.91,"e":1},
{"g":342,"x":1.8,"y":58.29,"e":1},{"g":342,"x":1.84,"y":58.23},{"g":342,"x":1.85,"y":58.17},{"g":342,"x":1.93,"y":58.05},{"g":342,"x":1.89,"y":58},{"g":342,"x":1.93,"y":57.95},{"g":342,"x":1.95,"y":57.93,"e":1},{"g":342,"x":1.95,"y":58.29,"e":1},
{"g":343,"x":1.56,"y":58.22},{"g":343,"x":1.62,"y":58.17},{"g":343,"x":1.64,"y":58.11},{"g":343,"x":1.62,"y":58.08},{"g":343,"x":1.58,"y":58.1},{"g":343,"x":1.55,"y":58.1,"e":1},
{"g":344,"x":1.86,"y":58.25},{"g":344,"x":1.89,"y":58.27},{"g":344,"x":1.93,"y":58.25},{"g":344,"x":1.89,"y":58.24},{"g":344,"x":1.86,"y":58.25},
{"g":345,"x":1.64,"y":58.11},{"g":345,"x":1.64,"y":58.09},{"g":345,"x":1.83,"y":58.07},{"g":345,"x":1.86,"y":58.1},{"g":345,"x":1.76,"y":58.11},{"g":345,"x":1.64,"y":58.11},
{"g":346,"x":1.76,"y":57.91},{"g":346,"x":1.75,"y":57.96},{"g":346,"x":1.83,"y":57.97},{"g":346,"x":1.93,"y":57.95},{"g":346,"x":1.95,"y":57.93},{"g":346,"x":1.9,"y":57.9},{"g":346,"x":1.85,"y":57.89,"e":1},{"g":346,"x":1.76,"y":57.89,"e":1},
{"g":347,"x":1.72,"y":58.29,"e":1},{"g":347,"x":1.72,"y":58.2},{"g":347,"x":1.76,"y":58.17},{"g":347,"x":1.85,"y":58.16},{"g":347,"x":1.88,"y":58.07},{"g":347,"x":1.88,"y":58},{"g":347,"x":1.95,"y":57.94,"e":1},{"g":347,"x":1.95,"y":58.29,"e":1},
{"g":348,"x":1.6,"y":58.29,"e":1},{"g":348,"x":1.6,"y":58.18},{"g":348,"x":1.57,"y":58.16},{"g":348,"x":1.55,"y":58.16,"e":1},{"g":348,"x":1.55,"y":58.29,"e":1},
{"g":349,"x":1.8,"y":58.29,"e":1},{"g":349,"x":1.7,"y":58.25},{"g":349,"x":1.7,"y":58.19},{"g":349,"x":1.75,"y":58.12},{"g":349,"x":1.7,"y":58.07},{"g":349,"x":1.9,"y":58.09},{"g":349,"x":1.93,"y":58.18},{"g":349,"x":1.95,"y":58.29,"e":1},
{"g":350,"x":1.68,"y":58.28},{"g":350,"x":1.72,"y":58.2},{"g":350,"x":1.81,"y":58.15},{"g":350,"x":1.8,"y":58.03},{"g":350,"x":1.88,"y":57.97},{"g":350,"x":1.93,"y":57.96},{"g":350,"x":1.95,"y":57.96,"e":1},{"g":350,"x":1.95,"y":58.29,"e":1},{"g":350,"x":1.68,"y":58.29,"e":1},
{"g":351,"x":1.85,"y":58.09},{"g":351,"x":1.88,"y":58.13},{"g":351,"x":1.91,"y":58.09},{"g":351,"x":1.88,"y":58.07},{"g":351,"x":1.85,"y":58.09},
{"g":352,"x":1.8,"y":57.95},{"g":352,"x":1.83,"y":57.97},{"g":352,"x":1.86,"y":57.95},{"g":352,"x":1.83,"y":57.93},{"g":352,"x":1.8,"y":57.95},
{"g":353,"x":1.56,"y":58},{"g":353,"x":1.63,"y":57.99},{"g":353,"x":1.74,"y":57.9},{"g":353,"x":1.74,"y":57.89,"e":1},{"g":353,"x":1.55,"y":57.89,"e":1},{"g":353,"x":1.55,"y":58,"e":1},
{"g":354,"x":1.75,"y":58.29,"e":1},{"g":354,"x":1.79,"y":58.2},{"g":354,"x":1.76,"y":58.12},{"g":354,"x":1.79,"y":58.14},{"g":354,"x":1.86,"y":58.19},{"g":354,"x":1.95,"y":58.21,"e":1},{"g":354,"x":1.95,"y":58.29,"e":1},
{"g":355,"x":1.57,"y":58.24},{"g":355,"x":1.65,"y":58.26},{"g":355,"x":1.67,"y":58.29,"e":1},{"g":355,"x":1.55,"y":58.29,"e":1},{"g":355,"x":1.55,"y":58.24,"e":1},
{"g":356,"x":1.65,"y":58.09},{"g":356,"x":1.66,"y":58.12},{"g":356,"x":1.75,"y":58.12},{"g":356,"x":1.76,"y":58.1},{"g":356,"x":1.67,"y":58.08},{"g":356,"x":1.65,"y":58.09},
{"g":357,"x":1.57,"y":58.02},{"g":357,"x":1.6,"y":58.05},{"g":357,"x":1.66,"y":58.05},{"g":357,"x":1.66,"y":58},{"g":357,"x":1.58,"y":57.96},{"g":357,"x":1.55,"y":57.96,"e":1},{"g":357,"x":1.55,"y":58.02,"e":1},
{"g":358,"x":1.61,"y":58.29},{"g":358,"x":1.58,"y":58.2},{"g":358,"x":1.6,"y":58.13},{"g":358,"x":1.6,"y":58.09},{"g":358,"x":1.57,"y":58.04},{"g":358,"x":1.55,"y":58.04,"e":1},{"g":358,"x":1.55,"y":58.29,"e":1},
{"g":359,"x":1.6,"y":58},{"g":359,"x":1.65,"y":58.02},{"g":359,"x":1.71,"y":58},{"g":359,"x":1.65,"y":57.98},{"g":359,"x":1.6,"y":58},
{"g":360,"x":1.6,"y":58.29},{"g":360,"x":1.62,"y":58.22},{"g":360,"x":1.67,"y":58.2},{"g":360,"x":1.73,"y":58.24},{"g":360,"x":1.79,"y":58.21},{"g":360,"x":1.81,"y":58.18},{"g":360,"x":1.83,"y":58.14},{"g":360,"x":1.75,"y":58.05},{"g":360,"x":1.67,"y":58.07},{"g":360,"x":1.58,"y":58.13},{"g":360,"x":1.55,"y":58.13,"e":1},{"g":360,"x":1.55,"y":58.29,"e":1},
{"g":361,"x":1.77,"y":58.26},{"g":361,"x":1.66,"y":58.09},{"g":361,"x":1.56,"y":58.07},{"g":361,"x":1.55,"y":58.07,"e":1},{"g":361,"x":1.55,"y":58.29,"e":1},{"g":361,"x":1.77,"y":58.29,"e":1},
{"g":362,"x":1.95,"y":58.25},{"g":362,"x":1.88,"y":58.24},{"g":362,"x":1.85,"y":58.13},{"g":362,"x":1.87,"y":58},{"g":362,"x":1.89,"y":57.95},{"g":362,"x":1.78,"y":57.92},{"g":362,"x":1.72,"y":57.89,"e":1},{"g":362,"x":1.95,"y":57.89,"e":1},
{"g":363,"x":1.74,"y":58.01},{"g":363,"x":1.79,"y":58.08},{"g":363,"x":1.82,"y":58.06},{"g":363,"x":1.76,"y":58},{"g":363,"x":1.74,"y":58.01},
{"g":364,"x":1.55,"y":58.24},{"g":364,"x":1.62,"y":58.2},{"g":364,"x":1.67,"y":58.22},{"g":364,"x":1.7,"y":58.29,"e":1},{"g":364,"x":1.55,"y":58.29,"e":1},
{"g":365,"x":1.82,"y":58.15},{"g":365,"x":1.92,"y":58.19},{"g":365,"x":1.94,"y":58.14},{"g":365,"x":1.82,"y":58.15},
{"g":366,"x":1.55,"y":58.24},{"g":366,"x":1.57,"y":58.2},{"g":366,"x":1.61,"y":58.15},{"g":366,"x":1.59,"y":58.06},{"g":366,"x":1.65,"y":57.99},{"g":366,"x":1.56,"y":57.96},{"g":366,"x":1.55,"y":57.96,"e":1},
{"g":367,"x":1.68,"y":58.27},{"g":367,"x":1.62,"y":58.2},{"g":367,"x":1.66,"y":58.17},{"g":367,"x":1.74,"y":58.17},{"g":367,"x":1.8,"y":58.2},{"g":367,"x":1.74,"y":58.27},{"g":367,"x":1.68,"y":58.27},
{"g":368,"x":1.92,"y":58.25},{"g":368,"x":1.95,"y":58.29,"e":1},{"g":368,"x":1.95,"y":58.16,"e":1},{"g":368,"x":1.92,"y":58.18},{"g":368,"x":1.92,"y":58.25},
{"g":369,"x":1.66,"y":58.24},{"g":369,"x":1.72,"y":58.24},{"g":369,"x":1.75,"y":58.2},{"g":369,"x":1.69,"y":58.17},{"g":369,"x":1.62,"y":58.19},{"g":369,"x":1.66,"y":58.24},
{"g":370,"x":1.83,"y":58.07},{"g":370,"x":1.85,"y":58.02},{"g":370,"x":1.88,"y":57.96},{"g":370,"x":1.84,"y":57.92},{"g":370,"x":1.88,"y":57.89,"e":1},{"g":370,"x":1.95,"y":57.89,"e":1},{"g":370,"x":1.95,"y":58.13,"e":1},{"g":370,"x":1.93,"y":58.13},{"g":370,"x":1.83,"y":58.07},
{"g":371,"x":1.74,"y":58.21},{"g":371,"x":1.75,"y":58.14},{"g":371,"x":1.77,"y":58.13},{"g":371,"x":1.82,"y":58.21},{"g":371,"x":1.79,"y":58.24},{"g":371,"x":1.74,"y":58.21},
{"g":372,"x":1.85,"y":58.29,"e":1},{"g":372,"x":1.88,"y":58.23},{"g":372,"x":1.84,"y":58.09},{"g":372,"x":1.82,"y":58.03},{"g":372,"x":1.91,"y":58.02},{"g":372,"x":1.95,"y":58.01,"e":1},{"g":372,"x":1.95,"y":58.29,"e":1},
{"g":373,"x":1.57,"y":58.26},{"g":373,"x":1.63,"y":58.25},{"g":373,"x":1.68,"y":58.23},{"g":373,"x":1.75,"y":58.21},{"g":373,"x":1.7,"y":58.18},{"g":373,"x":1.67,"y":58.14},{"g":373,"x":1.62,"y":58.14},{"g":373,"x":1.57,"y":58.18},{"g":373,"x":1.62,"y":58.24},
{"g":374,"x":1.8,"y":58.08},{"g":374,"x":1.82,"y":58.05},{"g":374,"x":1.84,"y":57.97},{"g":374,"x":1.87,"y":57.92},{"g":374,"x":1.95,"y":57.92,"e":1},{"g":374,"x":1.95,"y":58.08,"e":1},{"g":374,"x":1.8,"y":58.08},
{"g":375,"x":1.95,"y":58.09},{"g":375,"x":1.88,"y":58.08},{"g":375,"x":1.88,"y":58.04},{"g":375,"x":1.95,"y":58.01},
{"g":376,"x":1.68,"y":57.93},{"g":376,"x":1.72,"y":57.96},{"g":376,"x":1.79,"y":57.94},{"g":376,"x":1.74,"y":57.92},{"g":376,"x":1.68,"y":57.93},
{"g":377,"x":1.6,"y":58.2},{"g":377,"x":1.66,"y":58.17},{"g":377,"x":1.64,"y":58.1},{"g":377,"x":1.6,"y":58.1},{"g":377,"x":1.6,"y":58.2},
{"g":378,"x":1.56,"y":58.04},{"g":378,"x":1.63,"y":58},{"g":378,"x":1.7,"y":58},{"g":378,"x":1.85,"y":58.01},{"g":378,"x":1.84,"y":57.92},{"g":378,"x":1.91,"y":57.96},{"g":378,"x":1.95,"y":57.95,"e":1},{"g":378,"x":1.95,"y":57.89,"e":1},{"g":378,"x":1.55,"y":57.89,"e":1},{"g":378,"x":1.55,"y":58.04,"e":1},
{"g":379,"x":1.61,"y":58.12},{"g":379,"x":1.67,"y":58.16},{"g":379,"x":1.76,"y":58.16},{"g":379,"x":1.8,"y":58.1},{"g":379,"x":1.74,"y":58.03},{"g":379,"x":1.7,"y":58},{"g":379,"x":1.63,"y":57.99},{"g":379,"x":1.62,"y":58.05},{"g":379,"x":1.61,"y":58.12},
{"g":380,"x":1.82,"y":58.29},{"g":380,"x":1.84,"y":58.2},{"g":380,"x":1.85,"y":58.07},{"g":380,"x":1.9,"y":58},{"g":380,"x":1.94,"y":58.06},{"g":380,"x":1.95,"y":58.29,"e":1},
{"g":381,"x":1.69,"y":57.95},{"g":381,"x":1.74,"y":57.92},{"g":381,"x":1.73,"y":57.98},{"g":381,"x":1.69,"y":57.95},
{"g":382,"x":1.89,"y":58.13},{"g":382,"x":1.95,"y":58.24},{"g":382,"x":1.95,"y":58.13,"e":1},
{"g":383,"x":1.55,"y":58.08},{"g":383,"x":1.75,"y":58.09},{"g":383,"x":1.77,"y":58.18},{"g":383,"x":1.7,"y":58.18},{"g":383,"x":1.55,"y":58.14,"e":1},
{"g":384,"x":1.56,"y":58.04},{"g":384,"x":1.68,"y":58},{"g":384,"x":1.58,"y":57.96},{"g":384,"x":1.72,"y":57.92},{"g":384,"x":1.7,"y":57.89,"e":1},{"g":384,"x":1.55,"y":57.89,"e":1},
{"g":385,"x":1.66,"y":58.29,"e":1},{"g":385,"x":1.72,"y":58.2},{"g":385,"x":1.83,"y":58.19},{"g":385,"x":1.85,"y":58.08},{"g":385,"x":1.92,"y":58.05},{"g":385,"x":1.82,"y":58.05},{"g":385,"x":1.7,"y":58.14},{"g":385,"x":1.6,"y":58.05},{"g":385,"x":1.6,"y":58},{"g":385,"x":1.55,"y":57.99,"e":1},{"g":385,"x":1.55,"y":58.29,"e":1},
{"g":386,"x":1.55,"y":57.97},{"g":386,"x":1.7,"y":57.99},{"g":386,"x":1.8,"y":57.93},{"g":386,"x":1.87,"y":57.9},{"g":386,"x":1.87,"y":57.89,"e":1},{"g":386,"x":1.55,"y":57.89,"e":1},
{"g":387,"x":1.58,"y":58.26},{"g":387,"x":1.69,"y":58.18},{"g":387,"x":1.62,"y":58.16},{"g":387,"x":1.58,"y":58.07},{"g":387,"x":1.55,"y":58.07,"e":1},{"g":387,"x":1.55,"y":58.29,"e":1},
{"g":388,"x":1.57,"y":57.99},{"g":388,"x":1.63,"y":57.96},{"g":388,"x":1.65,"y":57.91},{"g":388,"x":1.65,"y":57.89,"e":1},{"g":388,"x":1.55,"y":57.89,"e":1},{"g":388,"x":1.55,"y":57.99,"e":1},
{"g":389,"x":1.77,"y":58.29},{"g":389,"x":1.79,"y":58.24},{"g":389,"x":1.89,"y":58.18},{"g":389,"x":1.86,"y":58.1},{"g":389,"x":1.78,"y":58.05},{"g":389,"x":1.89,"y":58},{"g":389,"x":1.87,"y":57.96},{"g":389,"x":1.73,"y":57.9},{"g":389,"x":1.73,"y":57.89,"e":1},{"g":389,"x":1.95,"y":57.89,"e":1},{"g":389,"x":1.95,"y":58.29,"e":1},
{"g":390,"x":1.63,"y":57.9},{"g":390,"x":1.66,"y":57.97},{"g":390,"x":1.65,"y":58.02},{"g":390,"x":1.78,"y":58.05},{"g":390,"x":1.82,"y":58.06},{"g":390,"x":1.82,"y":58},{"g":390,"x":1.72,"y":57.98},{"g":390,"x":1.67,"y":57.91},{"g":390,"x":1.67,"y":57.89,"e":1},{"g":390,"x":1.6,"y":57.89,"e":1},
{"g":391,"x":1.75,"y":58.29},{"g":391,"x":1.77,"y":58.22},{"g":391,"x":1.68,"y":58.13},{"g":391,"x":1.62,"y":58.13},{"g":391,"x":1.57,"y":58.12},{"g":391,"x":1.55,"y":58.12,"e":1},{"g":391,"x":1.55,"y":58.29,"e":1},
{"g":392,"x":1.57,"y":58},{"g":392,"x":1.68,"y":57.92},{"g":392,"x":1.68,"y":57.89,"e":1},{"g":392,"x":1.55,"y":57.89,"e":1},{"g":392,"x":1.55,"y":58,"e":1},
{"g":393,"x":1.55,"y":58.22},{"g":393,"x":1.63,"y":58.18},{"g":393,"x":1.7,"y":58.21},{"g":393,"x":1.85,"y":58.22},{"g":393,"x":1.95,"y":58.24,"e":1},{"g":393,"x":1.95,"y":58.29,"e":1},{"g":393,"x":1.55,"y":58.29,"e":1},
{"g":394,"x":1.8,"y":58.29,"e":1},{"g":394,"x":1.8,"y":58.26},{"g":394,"x":1.78,"y":58.2},{"g":394,"x":1.85,"y":58.18},{"g":394,"x":1.93,"y":58.21},{"g":394,"x":1.95,"y":58.29,"e":1},
{"g":395,"x":1.57,"y":58.17},{"g":395,"x":1.58,"y":58.09},{"g":395,"x":1.55,"y":58.09,"e":1},{"g":395,"x":1.55,"y":58.17,"e":1},
{"g":396,"x":1.78,"y":58.2},{"g":396,"x":1.79,"y":58.19},{"g":396,"x":1.82,"y":58.11},{"g":396,"x":1.87,"y":58.01},{"g":396,"x":1.93,"y":58},{"g":396,"x":1.95,"y":58.1,"e":1},{"g":396,"x":1.86,"y":58.2},{"g":396,"x":1.78,"y":58.2},
{"g":397,"x":1.57,"y":57.94},{"g":397,"x":1.63,"y":57.9},{"g":397,"x":1.7,"y":57.9},{"g":397,"x":1.76,"y":57.95},{"g":397,"x":1.85,"y":57.94},{"g":397,"x":1.9,"y":57.9},{"g":397,"x":1.95,"y":57.89,"e":1},{"g":397,"x":1.55,"y":57.89,"e":1},
{"g":398,"x":1.68,"y":58.08},{"g":398,"x":1.7,"y":58.13},{"g":398,"x":1.83,"y":58.14},{"g":398,"x":1.93,"y":58.11},{"g":398,"x":1.95,"y":58.1,"e":1},{"g":398,"x":1.95,"y":58.05,"e":1},{"g":398,"x":1.82,"y":58.06},{"g":398,"x":1.68,"y":58.06},
{"g":399,"x":1.56,"y":57.9},{"g":399,"x":1.6,"y":57.94},{"g":399,"x":1.58,"y":58},{"g":399,"x":1.55,"y":58.03,"e":1},{"g":399,"x":1.55,"y":57.89,"e":1},
{"g":400,"x":1.8,"y":58.29,"e":1},{"g":400,"x":1.95,"y":58.29,"e":1},{"g":400,"x":1.95,"y":58.26,"e":1},{"g":400,"x":1.78,"y":58.25,"e":1},{"g":400,"x":1.88,"y":58.19,"e":1},{"g":400,"x":1.8,"y":58.17,"e":1},{"g":400,"x":1.82,"y":58.1,"e":1},{"g":400,"x":1.8,"y":57.95,"e":1},{"g":400,"x":1.8,"y":57.92,"e":1},{"g":400,"x":1.93,"y":57.92,"e":1},{"g":400,"x":1.93,"y":57.89,"e":1},{"g":400,"x":1.77,"y":57.89,"e":1},{"g":400,"x":1.77,"y":57.92,"e":1},{"g":400,"x":1.69,"y":57.99,"e":1},{"g":400,"x":1.76,"y":58.03,"e":1},{"g":400,"x":1.69,"y":58.08,"e":1},{"g":400,"x":1.56,"y":58.09,"e":1},{"g":400,"x":1.55,"y":58.09,"e":1},{"g":400,"x":1.55,"y":58.22,"e":1},{"g":400,"x":1.62,"y":58.23,"e":1},{"g":400,"x":1.58,"y":58.28,"e":1},{"g":400,"x":1.58,"y":58.29,"e":1},
{"g":467,"l":1,"x":1.93,"y":58.26},{"g":467,"l":1,"x":1.78,"y":58.25},{"g":467,"l":1,"x":1.88,"y":58.19},{"g":467,"l":1,"x":1.8,"y":58.17},{"g":467,"l":1,"x":1.82,"y":58.1},{"g":467,"l":1,"x":1.8,"y":57.95},{"g":467,"l":1,"x":1.8,"y":57.92},{"g":467,"l":1,"x":1.93,"y":57.92},
{"g":468,"l":1,"x":1.56,"y":58.09},{"g":468,"l":1,"x":1.69,"y":58.08},{"g":468,"l":1,"x":1.76,"y":58.03},{"g":468,"l":1,"x":1.69,"y":57.99},{"g":468,"l":1,"x":1.77,"y":57.92},
{"g":469,"l":1,"x":1.58,"y":58.28},{"g":469,"l":1,"x":1.62,"y":58.23},{"g":469,"l":1,"x":1.56,"y":58.22},
{"g":401,"x":1.69,"y":58.2},{"g":401,"x":1.65,"y":58.14},{"g":401,"x":1.73,"y":58.13},{"g":401,"x":1.69,"y":58.2},
{"g":402,"x":1.57,"y":58.08},{"g":402,"x":1.65,"y":58.06},{"g":402,"x":1.72,"y":58},{"g":402,"x":1.78,"y":57.96},{"g":402,"x":1.86,"y":57.95},{"g":402,"x":1.88,"y":57.89},{"g":402,"x":1.55,"y":57.89,"e":1},{"g":402,"x":1.55,"y":58.08,"e":1},
{"g":403,"x":1.56,"y":58.24},{"g":403,"x":1.63,"y":58.27},{"g":403,"x":1.64,"y":58.29,"e":1},{"g":403,"x":1.55,"y":58.29,"e":1},
{"g":404,"x":1.82,"y":58.29,"e":1},{"g":404,"x":1.79,"y":58.22},{"g":404,"x":1.88,"y":58.19},{"g":404,"x":1.95,"y":58.19,"e":1},{"g":404,"x":1.95,"y":58.29,"e":1},
{"g":405,"x":1.66,"y":58.05},{"g":405,"x":1.63,"y":57.99},{"g":405,"x":1.72,"y":57.97},{"g":405,"x":1.79,"y":58},{"g":405,"x":1.66,"y":58.05},
{"g":406,"x":1.9,"y":58.13},{"g":406,"x":1.95,"y":58.16,"e":1},{"g":406,"x":1.95,"y":58.09,"e":1},{"g":406,"x":1.9,"y":58.13},
{"g":407,"x":1.76,"y":58.29,"e":1},{"g":407,"x":1.8,"y":58.26},{"g":407,"x":1.9,"y":58.2},{"g":407,"x":1.95,"y":58.24,"e":1},{"g":407,"x":1.95,"y":58.29,"e":1},
{"g":408,"x":1.82,"y":58.19},{"g":408,"x":1.79,"y":58.11},{"g":408,"x":1.9,"y":58.06},{"g":408,"x":1.95,"y":58.06,"e":1},{"g":408,"x":1.95,"y":58.18,"e":1},
{"g":409,"x":1.56,"y":58.01},{"g":409,"x":1.6,"y":58.02},{"g":409,"x":1.66,"y":57.99},{"g":409,"x":1.65,"y":57.89,"e":1},{"g":409,"x":1.55,"y":57.89,"e":1},
{"g":410,"x":1.63,"y":58.19},{"g":410,"x":1.75,"y":58.25},{"g":410,"x":1.95,"y":58.25,"e":1},{"g":410,"x":1.95,"y":58.17,"e":1},{"g":410,"x":1.83,"y":58.18},{"g":410,"x":1.83,"y":58.07},{"g":410,"x":1.85,"y":57.99},{"g":410,"x":1.82,"y":58.05},{"g":410,"x":1.65,"y":58.08},{"g":410,"x":1.61,"y":58.12},{"g":410,"x":1.63,"y":58.19},
{"g":411,"x":1.56,"y":58.02},{"g":411,"x":1.62,"y":58.06},{"g":411,"x":1.68,"y":57.98},{"g":411,"x":1.62,"y":57.89},{"g":411,"x":1.55,"y":57.89,"e":1},
{"g":412,"x":1.78,"y":58.27},{"g":412,"x":1.69,"y":58.22},{"g":412,"x":1.61,"y":58.2},{"g":412,"x":1.61,"y":58.15},{"g":412,"x":1.68,"y":58.12},{"g":412,"x":1.76,"y":58.13},{"g":412,"x":1.85,"y":58.1},{"g":412,"x":1.69,"y":58.08},{"g":412,"x":1.57,"y":58.03},{"g":412,"x":1.55,"y":58.03,"e":1},{"g":412,"x":1.55,"y":57.89,"e":1},{"g":412,"x":1.95,"y":57.89,"e":1},{"g":412,"x":1.95,"y":58.29,"e":1},{"g":412,"x":1.78,"y":58.29,"e":1},
{"g":470,"x":1.72,"y":58.19},{"g":470,"x":1.77,"y":58.21},{"g":470,"x":1.82,"y":58.2},{"g":470,"x":1.77,"y":58.16},{"g":470,"x":1.72,"y":58.19},
{"g":413,"x":1.78,"y":58.29},{"g":413,"x":1.8,"y":58.21},{"g":413,"x":1.88,"y":58.16},{"g":413,"x":1.93,"y":58.1},{"g":413,"x":1.95,"y":58.29,"e":1},
{"g":414,"x":1.57,"y":57.96},{"g":414,"x":1.66,"y":57.99},{"g":414,"x":1.72,"y":57.94},{"g":414,"x":1.8,"y":57.91},{"g":414,"x":1.85,"y":58.03},{"g":414,"x":1.93,"y":58.05},{"g":414,"x":1.95,"y":57.89,"e":1},{"g":414,"x":1.55,"y":57.89,"e":1},
{"g":415,"x":1.56,"y":58.17},{"g":415,"x":1.62,"y":58.1},{"g":415,"x":1.6,"y":58.07},{"g":415,"x":1.55,"y":58.07,"e":1},{"g":415,"x":1.55,"y":58.17,"e":1},
{"g":416,"x":1.56,"y":57.93},{"g":416,"x":1.68,"y":57.9},{"g":416,"x":1.74,"y":57.95},{"g":416,"x":1.75,"y":57.98},{"g":416,"x":1.8,"y":57.98},{"g":416,"x":1.82,"y":57.92},{"g":416,"x":1.93,"y":57.92},{"g":416,"x":1.95,"y":57.89,"e":1},{"g":416,"x":1.55,"y":57.89,"e":1},
{"g":417,"x":1.57,"y":58.13},{"g":417,"x":1.65,"y":58.15},{"g":417,"x":1.73,"y":58.1},{"g":417,"x":1.78,"y":58.02},{"g":417,"x":1.79,"y":57.96},{"g":417,"x":1.67,"y":57.92},{"g":417,"x":1.66,"y":57.89,"e":1},{"g":417,"x":1.55,"y":57.89,"e":1},{"g":417,"x":1.55,"y":58.13,"e":1},
{"g":418,"x":1.8,"y":58.12},{"g":418,"x":1.81,"y":58.12},{"g":418,"x":1.81,"y":58.05},{"g":418,"x":1.8,"y":58.05},{"g":418,"x":1.8,"y":58.12},
{"g":419,"x":1.67,"y":58},{"g":419,"x":1.74,"y":58},{"g":419,"x":1.71,"y":57.97},{"g":419,"x":1.67,"y":58},
{"g":420,"x":1.68,"y":58.29,"e":1},{"g":420,"x":1.69,"y":58.27},{"g":420,"x":1.78,"y":58.23},{"g":420,"x":1.79,"y":58.13},{"g":420,"x":1.8,"y":58.12},{"g":420,"x":1.9,"y":58.12},{"g":420,"x":1.93,"y":58.14},{"g":420,"x":1.95,"y":58.12,"e":1},{"g":420,"x":1.95,"y":58.29,"e":1},
{"g":421,"x":1.64,"y":57.9},{"g":421,"x":1.7,"y":57.93},{"g":421,"x":1.74,"y":57.9},{"g":421,"x":1.74,"y":57.89,"e":1},{"g":421,"x":1.64,"y":57.89,"e":1},
{"g":422,"x":1.6,"y":58.26},{"g":422,"x":1.66,"y":58.2},{"g":422,"x":1.74,"y":58.15},{"g":422,"x":1.68,"y":58.12},{"g":422,"x":1.79,"y":58.09},{"g":422,"x":1.93,"y":58.15},{"g":422,"x":1.95,"y":58.29,"e":1},{"g":422,"x":1.55,"y":58.29,"e":1},
{"g":423,"x":1.65,"y":57.94},{"g":423,"x":1.76,"y":58},{"g":423,"x":1.83,"y":57.98},{"g":423,"x":1.88,"y":57.89},{"g":423,"x":1.65,"y":57.89,"e":1},
{"g":424,"x":1.57,"y":58.19},{"g":424,"x":1.6,"y":58.25},{"g":424,"x":1.68,"y":58.26},{"g":424,"x":1.8,"y":58.19},{"g":424,"x":1.9,"y":58.12},{"g":424,"x":1.88,"y":58.06},{"g":424,"x":1.85,"y":58.02},{"g":424,"x":1.79,"y":58.07},{"g":424,"x":1.7,"y":58.14},{"g":424,"x":1.65,"y":58.13},{"g":424,"x":1.67,"y":58},{"g":424,"x":1.63,"y":57.96},{"g":424,"x":1.67,"y":57.92},{"g":424,"x":1.72,"y":57.89,"e":1},{"g":424,"x":1.55,"y":57.89,"e":1},{"g":424,"x":1.55,"y":58.29,"e":1},
{"g":425,"x":1.72,"y":58.29,"e":1},{"g":425,"x":1.76,"y":58.22},{"g":425,"x":1.73,"y":58.15},{"g":425,"x":1.72,"y":58.07},{"g":425,"x":1.8,"y":58.02},{"g":425,"x":1.93,"y":58.03},{"g":425,"x":1.95,"y":58.03,"e":1},{"g":425,"x":1.95,"y":58.29,"e":1},
{"g":426,"x":1.57,"y":57.98},{"g":426,"x":1.69,"y":58},{"g":426,"x":1.67,"y":57.94},{"g":426,"x":1.62,"y":57.93},{"g":426,"x":1.57,"y":57.98},
{"g":427,"x":1.72,"y":58.29},{"g":427,"x":1.67,"y":58.16},{"g":427,"x":1.72,"y":57.99},{"g":427,"x":1.73,"y":57.95},{"g":427,"x":1.62,"y":57.93},{"g":427,"x":1.56,"y":57.89},{"g":427,"x":1.55,"y":57.89,"e":1},{"g":427,"x":1.55,"y":58.29,"e":1},
{"g":428,"x":1.69,"y":58.08},{"g":428,"x":1.75,"y":58.19},{"g":428,"x":1.8,"y":58.17},{"g":428,"x":1.87,"y":58.13},{"g":428,"x":1.72,"y":58.08},{"g":428,"x":1.69,"y":58.08},
{"g":429,"x":1.56,"y":57.97},{"g":429,"x":1.65,"y":58.07},{"g":429,"x":1.75,"y":58.05},{"g":429,"x":1.83,"y":58.08},{"g":429,"x":1.85,"y":57.97},{"g":429,"x":1.78,"y":57.96},{"g":429,"x":1.82,"y":57.89},{"g":429,"x":1.55,"y":57.89,"e":1},
{"g":430,"x":1.56,"y":58.25},{"g":430,"x":1.66,"y":58.26},{"g":430,"x":1.78,"y":58.15},{"g":430,"x":1.85,"y":58.04},{"g":430,"x":1.93,"y":58.05},{"g":430,"x":1.95,"y":58.03,"e":1},{"g":430,"x":1.85,"y":58.0},{"g":430,"x":1.95,"y":57.96,"e":1},{"g":430,"x":1.55,"y":57.89,"e":1},{"g":430,"x":1.55,"y":57.89,"e":1},
{"g":431,"x":1.62,"y":57.94},{"g":431,"x":1.68,"y":57.92},{"g":431,"x":1.74,"y":57.96},{"g":431,"x":1.84,"y":57.95},{"g":431,"x":1.88,"y":57.9},{"g":431,"x":1.88,"y":57.89,"e":1},{"g":431,"x":1.66,"y":57.89,"e":1},{"g":431,"x":1.62,"y":57.94},
{"g":432,"x":1.6,"y":58.29,"e":1},{"g":432,"x":1.59,"y":58.18},{"g":432,"x":1.6,"y":58.1},{"g":432,"x":1.72,"y":58.06},{"g":432,"x":1.82,"y":58.09},{"g":432,"x":1.72,"y":58.05},{"g":432,"x":1.62,"y":58.02},{"g":432,"x":1.57,"y":58.09},{"g":432,"x":1.55,"y":58.1,"e":1},{"g":432,"x":1.55,"y":58.29,"e":1},
{"g":433,"x":1.86,"y":58.2},{"g":433,"x":1.95,"y":58.26},{"g":433,"x":1.95,"y":58.29,"e":1},{"g":433,"x":1.86,"y":58.29,"e":1},{"g":433,"x":1.8,"y":58.17},{"g":433,"x":1.86,"y":58.15},{"g":433,"x":1.93,"y":58.18},
{"g":434,"x":1.56,"y":58.01},{"g":434,"x":1.69,"y":58.01},{"g":434,"x":1.78,"y":58},{"g":434,"x":1.84,"y":57.9},{"g":434,"x":1.93,"y":57.94},{"g":434,"x":1.95,"y":57.89,"e":1},{"g":434,"x":1.55,"y":57.89,"e":1},{"g":434,"x":1.55,"y":58.01,"e":1},
{"g":435,"x":1.57,"y":58.26},{"g":435,"x":1.66,"y":58.2},{"g":435,"x":1.75,"y":58.15},{"g":435,"x":1.86,"y":58.13},{"g":435,"x":1.95,"y":58.16,"e":1},{"g":435,"x":1.95,"y":58.29,"e":1},{"g":435,"x":1.55,"y":58.29,"e":1},
{"g":436,"x":1.82,"y":57.89},{"g":436,"x":1.87,"y":58.05},{"g":436,"x":1.89,"y":58.1},{"g":436,"x":1.95,"y":58.1,"e":1},{"g":436,"x":1.95,"y":57.89,"e":1},
{"g":437,"x":1.6,"y":58.2},{"g":437,"x":1.65,"y":58.27},{"g":437,"x":1.68,"y":58.2},{"g":437,"x":1.63,"y":58.21},{"g":437,"x":1.55,"y":58.29,"e":1},
{"g":438,"x":1.57,"y":58.1},{"g":438,"x":1.66,"y":58.1},{"g":438,"x":1.67,"y":58.03},{"g":438,"x":1.68,"y":57.99},{"g":438,"x":1.7,"y":57.97},{"g":438,"x":1.6,"y":57.96},{"g":438,"x":1.65,"y":57.92},{"g":438,"x":1.7,"y":57.89,"e":1},{"g":438,"x":1.55,"y":57.89,"e":1},{"g":438,"x":1.55,"y":58.1,"e":1},
{"g":439,"x":1.85,"y":58.28},{"g":439,"x":1.75,"y":58.24},{"g":439,"x":1.72,"y":58.18},{"g":439,"x":1.6,"y":58.19},{"g":439,"x":1.62,"y":58.23},{"g":439,"x":1.74,"y":58.27},{"g":439,"x":1.8,"y":58.19},{"g":439,"x":1.88,"y":58.13},{"g":439,"x":1.93,"y":58.09},{"g":439,"x":1.95,"y":58.29,"e":1},
{"g":440,"x":1.57,"y":58.08},{"g":440,"x":1.68,"y":58.08},{"g":440,"x":1.69,"y":58.03},{"g":440,"x":1.69,"y":58.01},{"g":440,"x":1.76,"y":58},{"g":440,"x":1.76,"y":57.95},{"g":440,"x":1.6,"y":58.01},{"g":440,"x":1.55,"y":58,"e":1},{"g":440,"x":1.55,"y":58.08,"e":1},
{"g":441,"x":1.56,"y":57.9},{"g":441,"x":1.6,"y":57.95},{"g":441,"x":1.66,"y":57.93},{"g":441,"x":1.72,"y":57.9},{"g":441,"x":1.72,"y":57.89,"e":1},{"g":441,"x":1.55,"y":57.89,"e":1},
{"g":442,"x":1.92,"y":58.29},{"g":442,"x":1.85,"y":58.2},{"g":442,"x":1.8,"y":58.17},{"g":442,"x":1.82,"y":58.02},{"g":442,"x":1.74,"y":57.98},{"g":442,"x":1.7,"y":57.98},{"g":442,"x":1.62,"y":58.13},{"g":442,"x":1.55,"y":58.14,"e":1},{"g":442,"x":1.55,"y":58.29,"e":1},
{"g":443,"x":1.59,"y":58.12},{"g":443,"x":1.62,"y":58.18},{"g":443,"x":1.71,"y":58.15},{"g":443,"x":1.71,"y":58.03},{"g":443,"x":1.64,"y":58.01},{"g":443,"x":1.58,"y":58.06},{"g":443,"x":1.59,"y":58.12},
{"g":444,"x":1.86,"y":58.28},{"g":444,"x":1.78,"y":58.24},{"g":444,"x":1.71,"y":58.25},{"g":444,"x":1.69,"y":58.2},{"g":444,"x":1.77,"y":58.16},{"g":444,"x":1.7,"y":58.13},{"g":444,"x":1.72,"y":58.1},{"g":444,"x":1.7,"y":58.04},{"g":444,"x":1.74,"y":58},{"g":444,"x":1.72,"y":57.92},{"g":444,"x":1.71,"y":57.89,"e":1},{"g":444,"x":1.95,"y":57.89,"e":1},{"g":444,"x":1.95,"y":58.29,"e":1},{"g":444,"x":1.86,"y":58.29,"e":1},
{"g":445,"x":1.84,"y":58.25},{"g":445,"x":1.88,"y":58.2},{"g":445,"x":1.95,"y":58.2,"e":1},{"g":445,"x":1.95,"y":58.29,"e":1},{"g":445,"x":1.88,"y":58.29},
{"g":446,"x":1.88,"y":57.93},{"g":446,"x":1.88,"y":57.98},{"g":446,"x":1.93,"y":57.98},{"g":446,"x":1.95,"y":57.89,"e":1},{"g":446,"x":1.93,"y":57.9},
{"g":447,"x":1.57,"y":58.26},{"g":447,"x":1.63,"y":58.24},{"g":447,"x":1.63,"y":58.18},{"g":447,"x":1.6,"y":58.12},{"g":447,"x":1.55,"y":58.12,"e":1},{"g":447,"x":1.55,"y":58.29,"e":1},
{"g":448,"x":1.76,"y":58.29,"e":1},{"g":448,"x":1.84,"y":58.24},{"g":448,"x":1.86,"y":58.2},{"g":448,"x":1.76,"y":58.17},{"g":448,"x":1.72,"y":58.12},{"g":448,"x":1.73,"y":58.05},{"g":448,"x":1.8,"y":57.98},{"g":448,"x":1.85,"y":58.02},{"g":448,"x":1.93,"y":58.01},{"g":448,"x":1.95,"y":58.02,"e":1},{"g":448,"x":1.95,"y":58.29,"e":1},
{"g":449,"x":1.72,"y":58.03},{"g":449,"x":1.82,"y":58.13},{"g":449,"x":1.86,"y":58.1},{"g":449,"x":1.95,"y":58.1,"e":1},{"g":449,"x":1.95,"y":57.93,"e":1},{"g":449,"x":1.87,"y":57.92},{"g":449,"x":1.84,"y":57.9},{"g":449,"x":1.85,"y":57.95},{"g":449,"x":1.72,"y":58.03},
{"g":450,"x":1.64,"y":57.89,"e":1},{"g":450,"x":1.65,"y":57.95},{"g":450,"x":1.72,"y":57.96},{"g":450,"x":1.77,"y":58.03},{"g":450,"x":1.8,"y":58.1},{"g":450,"x":1.74,"y":58.18},{"g":450,"x":1.79,"y":58.23},{"g":450,"x":1.9,"y":58.17},{"g":450,"x":1.95,"y":58.17,"e":1},{"g":450,"x":1.95,"y":57.89,"e":1},
{"g":451,"x":1.56,"y":58.2},{"g":451,"x":1.63,"y":58.19},{"g":451,"x":1.67,"y":58.12},{"g":451,"x":1.65,"y":58.08},{"g":451,"x":1.56,"y":58.08},{"g":451,"x":1.55,"y":58.08,"e":1},{"g":451,"x":1.55,"y":58.2,"e":1},
{"g":452,"x":1.57,"y":58.15},{"g":452,"x":1.62,"y":58.25},{"g":452,"x":1.68,"y":58.17},{"g":452,"x":1.7,"y":58.08},{"g":452,"x":1.66,"y":58.18},{"g":452,"x":1.57,"y":58.15},
{"g":453,"x":1.58,"y":57.91},{"g":453,"x":1.64,"y":58.01},{"g":453,"x":1.72,"y":58.03},{"g":453,"x":1.77,"y":58.06},{"g":453,"x":1.83,"y":58},{"g":453,"x":1.86,"y":57.95},{"g":453,"x":1.82,"y":57.89,"e":1},{"g":453,"x":1.58,"y":57.89,"e":1},
{"g":454,"x":1.6,"y":58.12},{"g":454,"x":1.68,"y":58.12},{"g":454,"x":1.74,"y":58.1},{"g":454,"x":1.65,"y":58.09},{"g":454,"x":1.6,"y":58.12},
{"g":455,"x":1.69,"y":58},{"g":455,"x":1.71,"y":58.04},{"g":455,"x":1.76,"y":58},{"g":455,"x":1.75,"y":57.97},{"g":455,"x":1.7,"y":57.97},{"g":455,"x":1.69,"y":58},
{"g":456,"x":1.92,"y":58.26},{"g":456,"x":1.93,"y":58.12},{"g":456,"x":1.95,"y":58.12,"e":1},{"g":456,"x":1.95,"y":58.27,"e":1},
{"g":457,"x":1.56,"y":58.09},{"g":457,"x":1.7,"y":58.08},{"g":457,"x":1.7,"y":58.03},{"g":457,"x":1.62,"y":58},{"g":457,"x":1.56,"y":57.97},{"g":457,"x":1.55,"y":57.97,"e":1},{"g":457,"x":1.55,"y":58.09,"e":1},
{"g":458,"x":1.58,"y":57.9},{"g":458,"x":1.62,"y":57.96},{"g":458,"x":1.7,"y":57.94},{"g":458,"x":1.71,"y":57.98},{"g":458,"x":1.76,"y":58.08},{"g":458,"x":1.83,"y":58.13},{"g":458,"x":1.93,"y":58.16},{"g":458,"x":1.95,"y":57.89,"e":1},{"g":458,"x":1.58,"y":57.89,"e":1},
{"g":459,"x":1.79,"y":58.25},{"g":459,"x":1.82,"y":58.29,"e":1},{"g":459,"x":1.95,"y":58.29,"e":1},{"g":459,"x":1.95,"y":58.24,"e":1},{"g":459,"x":1.87,"y":58.23},{"g":459,"x":1.8,"y":58.21},
{"g":460,"x":1.55,"y":58.03},{"g":460,"x":1.62,"y":58.03},{"g":460,"x":1.68,"y":58.05},{"g":460,"x":1.7,"y":58.14},{"g":460,"x":1.77,"y":58.2},{"g":460,"x":1.78,"y":58.26},{"g":460,"x":1.94,"y":58.28},{"g":460,"x":1.95,"y":58.29,"e":1},{"g":460,"x":1.55,"y":58.29,"e":1},
{"g":461,"x":1.56,"y":58.23},{"g":461,"x":1.6,"y":58.18},{"g":461,"x":1.68,"y":58.16},{"g":461,"x":1.79,"y":58.19},{"g":461,"x":1.74,"y":58.26},{"g":461,"x":1.65,"y":58.2},{"g":461,"x":1.58,"y":58.25},{"g":461,"x":1.55,"y":58.25,"e":1},
{"g":462,"x":1.57,"y":58.27},{"g":462,"x":1.63,"y":58.26},{"g":462,"x":1.7,"y":58.26},{"g":462,"x":1.74,"y":58.18},{"g":462,"x":1.86,"y":58.17},{"g":462,"x":1.8,"y":58.23},{"g":462,"x":1.93,"y":58.27},{"g":462,"x":1.95,"y":58.29,"e":1},{"g":462,"x":1.55,"y":58.29,"e":1},
{"g":463,"x":1.92,"y":58.28},{"g":463,"x":1.8,"y":58.22},{"g":463,"x":1.83,"y":58.16},{"g":463,"x":1.79,"y":58.12},{"g":463,"x":1.88,"y":58.08},{"g":463,"x":1.95,"y":58.06,"e":1},{"g":463,"x":1.95,"y":58.29,"e":1},
{"g":464,"x":1.57,"y":58.29,"e":1},{"g":464,"x":1.57,"y":58.26,"e":1},{"g":464,"x":1.62,"y":58.22,"e":1},{"g":464,"x":1.58,"y":58.19,"e":1},{"g":464,"x":1.62,"y":58.15,"e":1},{"g":464,"x":1.71,"y":58.15,"e":1},{"g":464,"x":1.62,"y":58.12,"e":1},{"g":464,"x":1.64,"y":58.09,"e":1},{"g":464,"x":1.78,"y":58.08,"e":1},{"g":464,"x":1.85,"y":58.05,"e":1},{"g":464,"x":1.94,"y":58.12,"e":1},{"g":464,"x":1.95,"y":58.22,"e":1},{"g":464,"x":1.8,"y":58.22,"e":1},{"g":464,"x":1.8,"y":58.29,"e":1},
{"g":471,"l":1,"x":1.8,"y":58.27},{"g":471,"l":1,"x":1.8,"y":58.22},{"g":471,"l":1,"x":1.94,"y":58.22},
{"g":472,"l":1,"x":1.57,"y":58.26},{"g":472,"l":1,"x":1.62,"y":58.22},{"g":472,"l":1,"x":1.58,"y":58.19},{"g":472,"l":1,"x":1.62,"y":58.15},{"g":472,"l":1,"x":1.71,"y":58.15},{"g":472,"l":1,"x":1.62,"y":58.12},{"g":472,"l":1,"x":1.64,"y":58.09},{"g":472,"l":1,"x":1.78,"y":58.08},{"g":472,"l":1,"x":1.85,"y":58.05},{"g":472,"l":1,"x":1.94,"y":58.05},
{"g":473,"l":1,"x":1.58,"y":58.03},{"g":473,"l":1,"x":1.68,"y":58.05},{"g":473,"l":1,"x":1.78,"y":58.05},{"g":473,"l":1,"x":1.94,"y":58.12},
{"g":474,"l":1,"x":1.57,"y":57.93},{"g":474,"l":1,"x":1.64,"y":57.95},{"g":474,"l":1,"x":1.73,"y":58},{"g":474,"l":1,"x":1.83,"y":57.94},{"g":474,"l":1,"x":1.93,"y":57.95},{"g":474,"l":1,"x":1.94,"y":58.01},
{"g":465,"x":1.57,"y":58.14},{"g":465,"x":1.65,"y":58.09},{"g":465,"x":1.66,"y":58.02},{"g":465,"x":1.6,"y":57.99},{"g":465,"x":1.55,"y":58,"e":1},{"g":465,"x":1.55,"y":58.15,"e":1},
{"g":466,"x":1.78,"y":57.9},{"g":466,"x":1.82,"y":57.99},{"g":466,"x":1.85,"y":58.05},{"g":466,"x":1.93,"y":58.1},{"g":466,"x":1.95,"y":57.89,"e":1}
],"polys":[
{"g":1,"p":"2001.01","c":-1},{"g":2,"p":"2001.02","c":-1},{"g":3,"p":"2001.03","c":-1},{"g":4,"p":"2001.04","c":-1},{"g":5,"p":"2001.05","c":-1},{"g":6,"p":"2001.06","c":-2},{"g":7,"p":"2001.07","c":-1},{"g":8,"p":"2001.08","c":-1},{"g":9,"p":"2001.09","c":-2},{"g":10,"p":"2001.10","c":0},{"g":11,"p":"2001.11","c":-1},{"g":12,"p":"2001.12","c":0},
{"g":13,"p":"2002.01","c":0},{"g":14,"p":"2002.02","c":0},{"g":15,"p":"2002.03","c":0},{"g":16,"p":"2002.04","c":0},{"g":17,"p":"2002.05","c":0},{"g":18,"p":"2002.06","c":0},{"g":19,"p":"2002.07","c":0},{"g":20,"p":"2002.08","c":1},{"g":21,"p":"2002.09","c":1},{"g":22,"p":"2002.10","c":0},{"g":23,"p":"2002.11","c":-1},{"g":24,"p":"2002.12","c":-1},
{"g":25,"p":"2003.01","c":0},{"g":26,"p":"2003.02","c":-1},{"g":27,"p":"2003.03","c":0},{"g":28,"p":"2003.04","c":0},{"g":29,"p":"2003.05","c":0},{"g":30,"p":"2003.06","c":1},{"g":31,"p":"2003.07","c":1},{"g":32,"p":"2003.08","c":1},{"g":33,"p":"2003.09","c":1},{"g":34,"p":"2003.10","c":0},{"g":35,"p":"2003.11","c":0},{"g":36,"p":"2003.12","c":0},
{"g":37,"p":"2004.01","c":0},{"g":38,"p":"2004.02","c":0},{"g":39,"p":"2004.03","c":0},{"g":40,"p":"2004.04","c":0},{"g":41,"p":"2004.05","c":0},{"g":42,"p":"2004.06","c":-1},{"g":43,"p":"2004.07","c":-2},{"g":44,"p":"2004.08","c":0},{"g":45,"p":"2004.09","c":0},{"g":46,"p":"2004.10","c":-1},{"g":47,"p":"2004.11","c":0},{"g":48,"p":"2004.12","c":0},
{"g":49,"p":"2005.01","c":-1},{"g":50,"p":"2005.02","c":-1},{"g":51,"p":"2005.03","c":-1},{"g":52,"p":"2005.04","c":-1},{"g":53,"p":"2005.05","c":-1},{"g":54,"p":"2005.06","c":-2},{"g":55,"p":"2005.07","c":-1},{"g":56,"p":"2005.08","c":-2},{"g":57,"p":"2005.09","c":-1},{"g":58,"p":"2005.10","c":-1},{"g":59,"p":"2005.11","c":0},{"g":60,"p":"2005.12","c":0},
{"g":61,"p":"2006.01","c":-1},{"g":62,"p":"2006.02","c":0},{"g":63,"p":"2006.03","c":-1},{"g":64,"p":"2006.04","c":-1},{"g":65,"p":"2006.05","c":-1},{"g":66,"p":"2006.06","c":-1},{"g":67,"p":"2006.07","c":1},{"g":68,"p":"2006.08","c":0},{"g":69,"p":"2006.09","c":0},{"g":70,"p":"2006.10","c":1},{"g":71,"p":"2006.11","c":-1},{"g":72,"p":"2006.12","c":0},
{"g":73,"p":"2007.01","c":0},{"g":74,"p":"2007.02","c":0},{"g":75,"p":"2007.03","c":0},{"g":76,"p":"2007.04","c":1},{"g":77,"p":"2007.05","c":0},{"g":78,"p":"2007.06","c":0},{"g":79,"p":"2007.07","c":-1},{"g":80,"p":"2007.08","c":-2},{"g":81,"p":"2007.09","c":-2},{"g":82,"p":"2007.10","c":-1},{"g":83,"p":"2007.11","c":-1},{"g":84,"p":"2007.12","c":-1},
{"g":85,"p":"2008.01","c":-1},{"g":86,"p":"2008.02","c":0},{"g":87,"p":"2008.03","c":0},{"g":88,"p":"2008.04","c":0},{"g":89,"p":"2008.05","c":1},{"g":90,"p":"2008.06","c":0},{"g":91,"p":"2008.07","c":-1},{"g":92,"p":"2008.08","c":-1},{"g":93,"p":"2008.09","c":0},{"g":94,"p":"2008.10","c":-1},{"g":95,"p":"2008.11","c":-1},{"g":96,"p":"2008.12","c":-1},
{"g":97,"p":"2009.01","c":-1},{"g":98,"p":"2009.02","c":-1},{"g":99,"p":"2009.03","c":0},{"g":100,"p":"2009.04","c":0},{"g":101,"p":"2009.05","c":0},{"g":102,"p":"2009.06","c":0},{"g":103,"p":"2009.07","c":1},{"g":104,"p":"2009.08","c":-1},{"g":105,"p":"2009.09","c":-1},{"g":106,"p":"2009.10","c":-1},{"g":107,"p":"2009.11","c":0},{"g":108,"p":"2009.12","c":-1},
{"g":109,"p":"2010.01","c":-1},{"g":110,"p":"2010.02","c":-1},{"g":111,"p":"2010.03","c":-1},{"g":112,"p":"2010.04","c":-1},{"g":113,"p":"2010.05","c":-1},{"g":114,"p":"2010.06","c":0},{"g":115,"p":"2010.07","c":-1},{"g":116,"p":"2010.08","c":-1},{"g":117,"p":"2010.09","c":0},{"g":118,"p":"2010.10","c":-1},{"g":119,"p":"2010.11","c":-1},{"g":120,"p":"2010.12","c":-2},
{"g":121,"p":"2011.01","c":-1},{"g":122,"p":"2011.02","c":-1},{"g":123,"p":"2011.03","c":-1},{"g":124,"p":"2011.04","c":0},{"g":125,"p":"2011.05","c":0},{"g":126,"p":"2011.06","c":-1},{"g":127,"p":"2011.07","c":-1},{"g":128,"p":"2011.08","c":-2},{"g":129,"p":"2011.09","c":-1},{"g":130,"p":"2011.10","c":0},{"g":131,"p":"2011.11","c":0},{"g":132,"p":"2011.12","c":0},
{"g":133,"p":"2012.01","c":-1},{"g":134,"p":"2012.02","c":-1},{"g":135,"p":"2012.03","c":0},{"g":136,"p":"2012.04","c":-1},{"g":137,"p":"2012.05","c":0},{"g":138,"p":"2012.06","c":-2},{"g":139,"p":"2012.07","c":-1},{"g":140,"p":"2012.08","c":-1},{"g":141,"p":"2012.09","c":-2},{"g":142,"p":"2012.10","c":-1},{"g":143,"p":"2012.11","c":-1},{"g":144,"p":"2012.12","c":-1},
{"g":145,"p":"2013.01","c":-1},{"g":146,"p":"2013.02","c":-1},{"g":147,"p":"2013.03","c":-2},{"g":148,"p":"2013.04","c":-2},{"g":149,"p":"2013.05","c":-2},{"g":150,"p":"2013.06","c":-2},{"g":151,"p":"2013.07","c":0},{"g":152,"p":"2013.08","c":0},{"g":153,"p":"2013.09","c":-1},{"g":154,"p":"2013.10","c":-1},{"g":155,"p":"2013.11","c":0},{"g":156,"p":"2013.12","c":0},
{"g":157,"p":"2014.01","c":0},{"g":158,"p":"2014.02","c":-1},{"g":159,"p":"2014.03","c":0},{"g":160,"p":"2014.04","c":0},{"g":161,"p":"2014.05","c":0},{"g":162,"p":"2014.06","c":1},{"g":163,"p":"2014.07","c":0},{"g":164,"p":"2014.08","c":0},{"g":165,"p":"2014.09","c":0},{"g":166,"p":"2014.10","c":-1},{"g":167,"p":"2014.11","c":-1},{"g":168,"p":"2014.12","c":0},
{"g":169,"p":"2015.01","c":0},{"g":170,"p":"2015.02","c":0},{"g":171,"p":"2015.03","c":0},{"g":172,"p":"2015.04","c":0},{"g":173,"p":"2015.05","c":-1},{"g":174,"p":"2015.06","c":-2},{"g":175,"p":"2015.07","c":-3},{"g":176,"p":"2015.08","c":-2},{"g":177,"p":"2015.09","c":0},{"g":178,"p":"2015.10","c":0},{"g":179,"p":"2015.11","c":0},{"g":180,"p":"2015.12","c":0},
{"g":181,"p":"2016.01","c":-1},{"g":182,"p":"2016.02","c":0},{"g":183,"p":"2016.03","c":0},{"g":184,"p":"2016.04","c":-1},{"g":185,"p":"2016.05","c":-1},{"g":186,"p":"2016.06","c":-1},{"g":187,"p":"2016.07","c":0},{"g":188,"p":"2016.08","c":-2},{"g":189,"p":"2016.09","c":0},{"g":190,"p":"2016.10","c":0},{"g":191,"p":"2016.11","c":0},{"g":192,"p":"2016.12","c":0},
{"g":193,"p":"2017.01","c":0},{"g":194,"p":"2017.02","c":0},{"g":195,"p":"2017.03","c":0},{"g":196,"p":"2017.04","c":0},{"g":197,"p":"2017.05","c":-1},{"g":198,"p":"2017.06","c":0},{"g":199,"p":"2017.07","c":-1},{"g":200,"p":"2017.08","c":-1},{"g":201,"p":"2017.09","c":0},{"g":202,"p":"2017.10","c":-1},{"g":203,"p":"2017.11","c":0},{"g":204,"p":"2017.12","c":-1},
{"g":205,"p":"2018.01","c":-1},{"g":206,"p":"2018.02","c":-1},{"g":207,"p":"2018.03","c":-1},{"g":208,"p":"2018.04","c":-1},{"g":209,"p":"2018.05","c":1},{"g":210,"p":"2018.06","c":0},{"g":211,"p":"2018.07","c":1},{"g":212,"p":"2018.08","c":0},{"g":213,"p":"2018.09","c":-1},{"g":214,"p":"2018.10","c":-1},{"g":215,"p":"2018.11","c":0},{"g":216,"p":"2018.12","c":0},
{"g":217,"p":"2019.01","c":0},{"g":218,"p":"2019.02","c":0},{"g":219,"p":"2019.03","c":0},{"g":220,"p":"2019.04","c":0},{"g":221,"p":"2019.05","c":0},{"g":222,"p":"2019.06","c":0},{"g":223,"p":"2019.07","c":0},{"g":224,"p":"2019.08","c":0},{"g":225,"p":"2019.09","c":-1},{"g":226,"p":"2019.10","c":-1},{"g":227,"p":"2019.11","c":-1},{"g":228,"p":"2019.12","c":-1},
{"g":229,"p":"2020.01","c":0},{"g":230,"p":"2020.02","c":0},{"g":231,"p":"2020.03","c":0},{"g":232,"p":"2020.04","c":0},{"g":233,"p":"2020.05","c":0},{"g":234,"p":"2020.06","c":1},{"g":235,"p":"2020.07","c":-1},{"g":236,"p":"2020.08","c":-2},{"g":237,"p":"2020.09","c":-1},{"g":238,"p":"2020.10","c":-1},{"g":239,"p":"2020.11","c":0},{"g":240,"p":"2020.12","c":0},
{"g":241,"p":"2001.01","c":0},{"g":242,"p":"2001.01","c":0},{"g":243,"p":"2001.01","c":0},{"g":244,"p":"2001.02","c":0},{"g":245,"p":"2001.05","c":0},{"g":246,"p":"2001.06","c":-3},{"g":247,"p":"2001.06","c":-2},{"g":248,"p":"2001.06","c":9},{"g":249,"p":"2001.07","c":0},{"g":250,"p":"2001.09","c":-1},{"g":251,"p":"2001.10","c":-1},{"g":252,"p":"2001.10","c":-2},{"g":253,"p":"2001.10","c":-1},{"g":254,"p":"2001.11","c":-2},{"g":255,"p":"2001.11","c":-2},{"g":256,"p":"2001.11","c":0},{"g":257,"p":"2001.11","c":0},{"g":258,"p":"2001.11","c":-2},{"g":259,"p":"2001.11","c":0},{"g":260,"p":"2001.12","c":-1},
{"g":261,"p":"2002.01","c":-1},{"g":262,"p":"2002.03","c":-1},{"g":263,"p":"2002.04","c":-1},{"g":264,"p":"2002.05","c":-1},{"g":265,"p":"2002.09","c":2},{"g":266,"p":"2002.10","c":1},{"g":267,"p":"2002.10","c":1},{"g":268,"p":"2002.10","c":-1},{"g":269,"p":"2002.11","c":-2},{"g":270,"p":"2002.12","c":-2},{"g":271,"p":"2002.12","c":9},
{"g":272,"p":"2003.01","c":-1},{"g":273,"p":"2003.01","c":-1},{"g":274,"p":"2003.02","c":0},{"g":275,"p":"2003.02","c":-1},{"g":276,"p":"2003.05","c":-1},{"g":277,"p":"2003.05","c":-1},{"g":278,"p":"2003.05","c":-1},{"g":279,"p":"2003.05","c":-1},{"g":280,"p":"2003.08","c":2},{"g":281,"p":"2003.08","c":2},{"g":282,"p":"2003.08","c":2},{"g":283,"p":"2003.09","c":0},{"g":284,"p":"2003.09","c":0},{"g":285,"p":"2003.09","c":0},{"g":286,"p":"2003.10","c":-1},{"g":287,"p":"2003.10","c":1},{"g":288,"p":"2003.10","c":1},{"g":289,"p":"2003.11","c":-1},{"g":290,"p":"2003.12","c":1},{"g":291,"p":"2003.12","c":1},{"g":292,"p":"2003.12","c":-1},
{"g":293,"p":"2004.02","c":-1},{"g":294,"p":"2004.05","c":-1},{"g":295,"p":"2004.05","c":-1},{"g":296,"p":"2004.06","c":0},{"g":297,"p":"2004.08","c":1},{"g":298,"p":"2004.08","c":1},{"g":299,"p":"2004.08","c":1},{"g":300,"p":"2004.10","c":-2},{"g":301,"p":"2004.11","c":-1},{"g":302,"p":"2004.11","c":-1},
{"g":303,"p":"2005.01","c":0},{"g":304,"p":"2005.01","c":0},{"g":305,"p":"2005.01","c":0},{"g":306,"p":"2005.01","c":0},{"g":307,"p":"2005.02","c":0},{"g":308,"p":"2005.02","c":0},{"g":309,"p":"2005.05","c":-2},{"g":310,"p":"2005.05","c":-2},{"g":311,"p":"2005.07","c":-2},{"g":312,"p":"2005.07","c":0},{"g":313,"p":"2005.07","c":0},{"g":314,"p":"2005.10","c":0},{"g":315,"p":"2005.10","c":0},{"g":316,"p":"2005.11","c":-1},{"g":317,"p":"2005.12","c":-1},{"g":318,"p":"2005.12","c":-1},
{"g":319,"p":"2006.01","c":0},{"g":320,"p":"2006.01","c":0},{"g":321,"p":"2006.06","c":0},{"g":322,"p":"2006.06","c":0},{"g":323,"p":"2006.06","c":-2},{"g":324,"p":"2006.07","c":0},{"g":325,"p":"2006.08","c":1},{"g":326,"p":"2006.08","c":1},{"g":327,"p":"2006.09","c":1},{"g":328,"p":"2006.11","c":0},
{"g":329,"p":"2007.01","c":-1},{"g":330,"p":"2007.04","c":0},{"g":331,"p":"2007.06","c":1},{"g":332,"p":"2007.06","c":1},{"g":333,"p":"2007.07","c":0},{"g":334,"p":"2007.07","c":-2},{"g":335,"p":"2007.08","c":-1},{"g":336,"p":"2007.08","c":-1},{"g":337,"p":"2007.09","c":-1},{"g":338,"p":"2007.10","c":0},{"g":339,"p":"2007.10","c":0},{"g":340,"p":"2007.11","c":0},{"g":341,"p":"2007.12","c":0},
{"g":342,"p":"2008.01","c":0},{"g":343,"p":"2008.02","c":-1},{"g":344,"p":"2008.04","c":-1},{"g":345,"p":"2008.04","c":-1},{"g":346,"p":"2008.04","c":-1},{"g":347,"p":"2008.06","c":1},{"g":348,"p":"2008.07","c":0},{"g":349,"p":"2008.07","c":0},{"g":350,"p":"2008.08","c":0},
{"g":351,"p":"2009.03","c":-1},{"g":352,"p":"2009.03","c":-1},{"g":353,"p":"2009.06","c":1},{"g":354,"p":"2009.07","c":2},{"g":355,"p":"2009.07","c":2},{"g":356,"p":"2009.07","c":2},{"g":357,"p":"2009.07","c":2},{"g":358,"p":"2009.08","c":0},{"g":359,"p":"2009.10","c":0},{"g":360,"p":"2009.12","c":0},
{"g":361,"p":"2010.06","c":-1},{"g":362,"p":"2010.06","c":-1},{"g":363,"p":"2010.07","c":-2},{"g":364,"p":"2010.08","c":0},{"g":365,"p":"2010.08","c":0},{"g":366,"p":"2010.09","c":-1},{"g":367,"p":"2010.11","c":0},{"g":368,"p":"2010.12","c":-3},
{"g":369,"p":"2011.01","c":-2},{"g":370,"p":"2011.01","c":-2},{"g":371,"p":"2011.07","c":-2},{"g":372,"p":"2011.08","c":-1},{"g":373,"p":"2011.09","c":-2},{"g":374,"p":"2011.09","c":-2},{"g":375,"p":"2011.10","c":-1},{"g":376,"p":"2011.10","c":-1},{"g":377,"p":"2011.12","c":-1},{"g":378,"p":"2011.12","c":-1},
{"g":379,"p":"2012.01","c":0},{"g":380,"p":"2012.02","c":0},{"g":381,"p":"2012.03","c":1},{"g":382,"p":"2012.05","c":-1},{"g":383,"p":"2012.05","c":-1},{"g":384,"p":"2012.05","c":-1},{"g":385,"p":"2012.07","c":-2},{"g":386,"p":"2012.07","c":-2},{"g":387,"p":"2012.09","c":-1},{"g":388,"p":"2012.09","c":-1},{"g":389,"p":"2012.10","c":-2},
{"g":390,"p":"2013.03","c":-1},{"g":391,"p":"2013.06","c":-1},{"g":392,"p":"2013.06","c":-1},{"g":393,"p":"2013.07","c":-1},{"g":394,"p":"2013.09","c":0},{"g":395,"p":"2013.10","c":0},{"g":396,"p":"2013.11","c":-1},{"g":397,"p":"2013.11","c":-1},{"g":398,"p":"2013.12","c":-1},{"g":399,"p":"2013.12","c":-1},
{"g":400,"p":"2014.01","c":-1},{"g":401,"p":"2014.01","c":0},{"g":402,"p":"2014.02","c":0},{"g":403,"p":"2014.05","c":-1},{"g":404,"p":"2014.06","c":0},{"g":405,"p":"2014.06","c":0},{"g":406,"p":"2014.06","c":0},{"g":407,"p":"2014.07","c":1},{"g":408,"p":"2014.07","c":1},{"g":409,"p":"2014.07","c":-1},{"g":410,"p":"2014.08","c":1},{"g":411,"p":"2014.08","c":1},{"g":412,"p":"2014.10","c":0},{"g":413,"p":"2014.11","c":0},{"g":414,"p":"2014.11","c":0},
{"g":415,"p":"2015.02","c":-1},{"g":416,"p":"2015.02","c":-1},{"g":417,"p":"2015.04","c":-1},{"g":418,"p":"2015.05","c":-2},{"g":419,"p":"2015.05","c":-2},{"g":420,"p":"2015.06","c":-3},{"g":421,"p":"2015.06","c":-3},{"g":422,"p":"2015.07","c":-2},{"g":423,"p":"2015.07","c":-2},{"g":424,"p":"2015.09","c":-1},{"g":425,"p":"2015.11","c":1},{"g":426,"p":"2015.11","c":1},
{"g":427,"p":"2016.01","c":0},{"g":428,"p":"2016.02","c":-1},{"g":429,"p":"2016.03","c":-1},{"g":430,"p":"2016.04","c":0},{"g":431,"p":"2016.06","c":0},{"g":432,"p":"2016.07","c":-1},{"g":433,"p":"2016.07","c":-1},{"g":434,"p":"2016.08","c":-1},{"g":435,"p":"2016.09","c":1},{"g":436,"p":"2016.09","c":1},{"g":437,"p":"2016.11","c":-1},{"g":438,"p":"2016.11","c":-1},
{"g":439,"p":"2017.10","c":0},{"g":440,"p":"2017.10","c":0},{"g":441,"p":"2017.11","c":1},{"g":442,"p":"2017.12","c":0},
{"g":443,"p":"2018.01","c":0},{"g":444,"p":"2018.03","c":-2},{"g":445,"p":"2018.04","c":-2},{"g":446,"p":"2018.04","c":-2},{"g":447,"p":"2018.05","c":0},{"g":448,"p":"2018.06","c":1},{"g":449,"p":"2018.08","c":1},{"g":450,"p":"2018.09","c":-2},{"g":451,"p":"2018.09","c":0},{"g":452,"p":"2018.11","c":-1},{"g":453,"p":"2018.11","c":-1},
{"g":454,"p":"2019.01","c":-1},{"g":455,"p":"2019.01","c":-1},{"g":456,"p":"2019.05","c":-1},{"g":457,"p":"2019.05","c":-1},{"g":458,"p":"2019.07","c":-1},{"g":459,"p":"2019.09","c":-2},
{"g":460,"p":"2020.06","c":0},{"g":461,"p":"2020.07","c":0},{"g":462,"p":"2020.08","c":-1},{"g":463,"p":"2020.09","c":0},{"g":464,"p":"2020.10","c":0},{"g":465,"p":"2013.09","c":0},{"g":466,"p":"2013.09","c":0},{"g":467,"p":"2014.01","c":-1},{"g":468,"p":"2014.01","c":-1},{"g":469,"p":"2014.01","c":-1},{"g":470,"p":"2014.10","c":-1},{"g":471,"p":"2020.10","c":0},{"g":472,"p":"2020.10","c":0},{"g":473,"p":"2020.10","c":0},{"g":474,"p":"2020.10","c":0}
],"bar":[{"lo":-4,"hi":-3,"c":-4},{"lo":-3,"hi":-2,"c":-3},{"lo":-2,"hi":-1,"c":-2},{"lo":-1,"hi":0,"c":-1},{"lo":0,"hi":1,"c":0},{"lo":1,"hi":2,"c":1},{"lo":2,"hi":3,"c":2},{"lo":3,"hi":4,"c":3}],"gap":[{"s":1}]},"hconcat":[{"vconcat":[{"data":{"name":"gap"},"width":1,"height":1,"view":{"stroke":null},"mark":{"type":"rect","opacity":0},"encoding":{}},{"data":{"name":"pts"},"transform":[{"lookup":"g","from":{"data":{"name":"polys"},"key":"g","fields":["p","c"]}}],"bounds":"flush","columns":12,"facet":{"field":"p","type":"nominal","header":{"title":null,"labelFontSize":12.4,"labelFont":"Liberation Sans","labelPadding":1,"labelColor":"#111"}},"spacing":{"row":16.7,"column":7.36},"spec":{"width":68,"height":129.4,"layer":[{"transform":[{"filter":"datum.x==null"}],"mark":{"type":"rect"},"encoding":{"color":{"field":"c","type":"ordinal","scale":{"domain":[-4,-3,-2,-1,0,1,2,3,9],"range":["#2166ac","#4393c3","#a6cde2","#deebf1","#f9e5d9","#f4b191","#d8654f","#b2182b","#ffffff"]},"legend":null}}},{"transform":[{"filter":"datum.g>240&&!datum.l"}],"mark":{"type":"line","filled":true,"clip":true},"encoding":{"x":{"field":"x","type":"quantitative","scale":{"domain":[1.55,1.95],"nice":false,"zero":false},"axis":{"values":[1.6,1.7,1.8,1.9],"labels":false,"title":null,"grid":false,"domain":false,"tickSize":6,"tickColor":"#444"}},"y":{"field":"y","type":"quantitative","scale":{"domain":[57.89,58.29],"nice":false,"zero":false},"axis":{"values":[57.9,58,58.1,58.2],"labels":false,"title":null,"grid":false,"domain":false,"tickSize":6,"tickColor":"#444"}},"detail":{"field":"g"},"order":{"value":null},"color":{"field":"c","type":"ordinal","legend":null}}},{"transform":[{"filter":"datum.g>240&&!datum.e"}],"mark":{"type":"line","clip":true,"stroke":"#222","strokeWidth":0.9},"encoding":{"x":{"field":"x","type":"quantitative"},"y":{"field":"y","type":"quantitative"},"detail":{"field":"g"},"order":{"value":null}}},{"transform":[{"filter":"datum.t"}],"mark":{"type":"text","align":"right","dx":-12,"fontSize":9.7,"color":"#333"},"encoding":{"x":{"field":"x","type":"quantitative"},"y":{"field":"y","type":"quantitative"},"text":{"field":"t"}}},{"transform":[{"filter":"datum.u"}],"mark":{"type":"text","baseline":"top","dy":12,"fontSize":9.7,"color":"#333"},"encoding":{"x":{"field":"x","type":"quantitative"},"y":{"field":"y","type":"quantitative"},"text":{"field":"u"}}},{"transform":[{"filter":"datum.v"}],"mark":{"type":"text","baseline":"top","dy":28,"fontSize":12.4,"color":"#222"},"encoding":{"x":{"field":"x","type":"quantitative"},"y":{"field":"y","type":"quantitative"},"text":{"field":"v"}}},{"transform":[{"filter":"datum.w"}],"mark":{"type":"text","angle":270,"fontSize":12.4,"color":"#222"},"encoding":{"x":{"field":"x","type":"quantitative"},"y":{"field":"y","type":"quantitative"},"text":{"field":"w"}}}]}}],"spacing":-2},{"data":{"name":"bar"},"width":18,"height":2932,"view":{"stroke":null},"mark":"rect","encoding":{"y":{"field":"lo","type":"quantitative","scale":{"domain":[-4,4],"nice":false,"zero":false},"axis":{"orient":"right","values":[-4,-3,-2,-1,0,1,2,3,4],"title":null,"grid":false,"domain":false,"tickSize":4,"tickColor":"#555","labelFontSize":9.7,"labelColor":"#333","labelPadding":3}},"y2":{"field":"hi"},"color":{"field":"c","type":"ordinal","legend":null}}}],"spacing":5,"resolve":{"scale":{"color":"shared"}}}
